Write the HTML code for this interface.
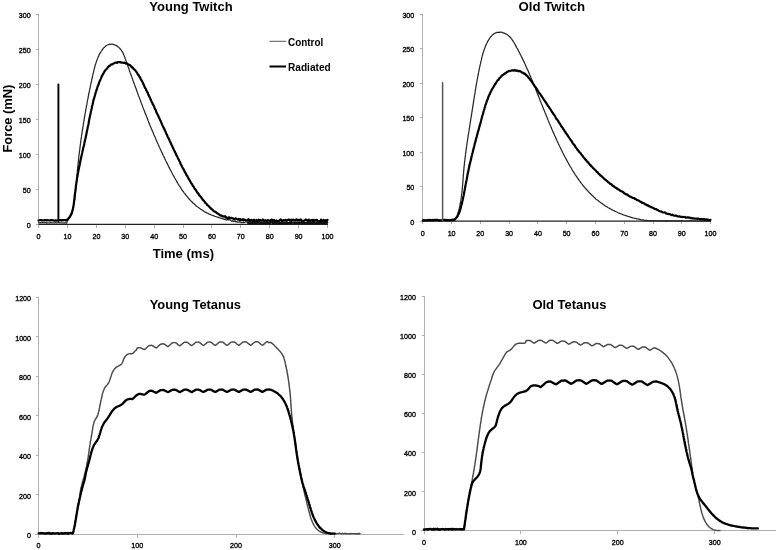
<!DOCTYPE html>
<html><head><meta charset="utf-8"><style>
html,body{margin:0;padding:0;background:#fff;width:778px;height:550px;overflow:hidden}
svg{display:block;filter:blur(0.3px)}
</style></head><body>
<svg width="778" height="550" viewBox="0 0 778 550">
<rect width="778" height="550" fill="#fff"/>
<g stroke="#b0b0b0" stroke-width="1" fill="none" shape-rendering="crispEdges">
<line x1="38.5" y1="14" x2="38.5" y2="225"/>
<line x1="35.5" y1="224.4" x2="38.5" y2="224.4"/><line x1="35.5" y1="189.4" x2="38.5" y2="189.4"/><line x1="35.5" y1="154.4" x2="38.5" y2="154.4"/><line x1="35.5" y1="119.4" x2="38.5" y2="119.4"/><line x1="35.5" y1="84.4" x2="38.5" y2="84.4"/><line x1="35.5" y1="49.4" x2="38.5" y2="49.4"/><line x1="35.5" y1="14.4" x2="38.5" y2="14.4"/>
<line x1="38.6" y1="224.5" x2="38.6" y2="227.5"/><line x1="67.5" y1="224.5" x2="67.5" y2="227.5"/><line x1="96.4" y1="224.5" x2="96.4" y2="227.5"/><line x1="125.3" y1="224.5" x2="125.3" y2="227.5"/><line x1="154.2" y1="224.5" x2="154.2" y2="227.5"/><line x1="183.0" y1="224.5" x2="183.0" y2="227.5"/><line x1="211.9" y1="224.5" x2="211.9" y2="227.5"/><line x1="240.8" y1="224.5" x2="240.8" y2="227.5"/><line x1="269.7" y1="224.5" x2="269.7" y2="227.5"/><line x1="298.6" y1="224.5" x2="298.6" y2="227.5"/><line x1="327.5" y1="224.5" x2="327.5" y2="227.5"/>
<line x1="422.5" y1="14" x2="422.5" y2="222"/>
<line x1="419.5" y1="221.0" x2="422.5" y2="221.0"/><line x1="419.5" y1="186.5" x2="422.5" y2="186.5"/><line x1="419.5" y1="152.1" x2="422.5" y2="152.1"/><line x1="419.5" y1="117.6" x2="422.5" y2="117.6"/><line x1="419.5" y1="83.1" x2="422.5" y2="83.1"/><line x1="419.5" y1="48.7" x2="422.5" y2="48.7"/><line x1="419.5" y1="14.2" x2="422.5" y2="14.2"/>
<line x1="422.8" y1="221.0" x2="422.8" y2="224.0"/><line x1="451.6" y1="221.0" x2="451.6" y2="224.0"/><line x1="480.3" y1="221.0" x2="480.3" y2="224.0"/><line x1="509.1" y1="221.0" x2="509.1" y2="224.0"/><line x1="537.9" y1="221.0" x2="537.9" y2="224.0"/><line x1="566.6" y1="221.0" x2="566.6" y2="224.0"/><line x1="595.4" y1="221.0" x2="595.4" y2="224.0"/><line x1="624.2" y1="221.0" x2="624.2" y2="224.0"/><line x1="653.0" y1="221.0" x2="653.0" y2="224.0"/><line x1="681.7" y1="221.0" x2="681.7" y2="224.0"/><line x1="710.5" y1="221.0" x2="710.5" y2="224.0"/>
<line x1="38.5" y1="297" x2="38.5" y2="534"/>
<line x1="35" y1="534.5" x2="404" y2="534.5"/>
<line x1="35.5" y1="534.1" x2="38.5" y2="534.1"/><line x1="35.5" y1="494.6" x2="38.5" y2="494.6"/><line x1="35.5" y1="455.2" x2="38.5" y2="455.2"/><line x1="35.5" y1="415.7" x2="38.5" y2="415.7"/><line x1="35.5" y1="376.3" x2="38.5" y2="376.3"/><line x1="35.5" y1="336.8" x2="38.5" y2="336.8"/><line x1="35.5" y1="297.3" x2="38.5" y2="297.3"/>
<line x1="38.6" y1="534.5" x2="38.6" y2="537.5"/><line x1="137.3" y1="534.5" x2="137.3" y2="537.5"/><line x1="236.0" y1="534.5" x2="236.0" y2="537.5"/><line x1="334.7" y1="534.5" x2="334.7" y2="537.5"/>
<line x1="424.5" y1="296" x2="424.5" y2="531"/>
<line x1="421" y1="530.5" x2="776" y2="530.5"/>
<line x1="421.5" y1="530.7" x2="424.5" y2="530.7"/><line x1="421.5" y1="491.6" x2="424.5" y2="491.6"/><line x1="421.5" y1="452.5" x2="424.5" y2="452.5"/><line x1="421.5" y1="413.5" x2="424.5" y2="413.5"/><line x1="421.5" y1="374.4" x2="424.5" y2="374.4"/><line x1="421.5" y1="335.3" x2="424.5" y2="335.3"/><line x1="421.5" y1="296.2" x2="424.5" y2="296.2"/>
<line x1="424.0" y1="530.5" x2="424.0" y2="533.5"/><line x1="520.9" y1="530.5" x2="520.9" y2="533.5"/><line x1="617.8" y1="530.5" x2="617.8" y2="533.5"/><line x1="714.7" y1="530.5" x2="714.7" y2="533.5"/>
</g>
<g stroke="#222" stroke-width="1.2" fill="none">
<line x1="38.5" y1="224.4" x2="328" y2="224.4"/>
<line x1="422.5" y1="221.1" x2="711" y2="221.1"/>
</g>
<g fill="none" stroke-linejoin="round" stroke-linecap="round">
<polyline stroke="#262626" stroke-width="1.25" points="38.6,222.6 39.4,222.8 40.2,222.7 41.1,222.9 41.9,222.9 42.7,222.5 43.5,222.5 44.3,223.0 45.2,222.7 46.0,222.6 46.8,223.1 47.6,222.8 48.4,223.0 49.3,222.8 50.1,222.9 50.9,222.6 51.7,222.9 52.5,223.0 53.4,222.8 54.2,222.9 55.0,222.9 55.8,222.5 56.7,223.0 57.5,222.9 58.3,222.7 59.1,222.5 59.9,223.0 60.8,222.8 61.6,222.9 62.4,223.0 63.2,222.9 64.0,223.1 64.9,222.7 65.7,223.0 66.5,222.8 66.5,223.1 66.9,222.4 67.3,221.2 67.7,220.6 68.1,220.0 68.5,219.6 68.8,218.7 69.2,218.1 69.5,217.3 69.8,216.6 70.1,215.9 70.4,215.2 70.7,214.5 71.0,213.8 71.3,213.2 71.5,212.4 71.8,211.8 72.0,211.0 72.2,210.3 72.5,209.4 72.7,208.5 72.9,208.0 73.1,207.3 73.3,206.5 73.5,205.6 73.6,204.9 73.8,203.9 74.0,203.4 74.1,202.5 74.3,201.6 74.4,200.7 74.5,200.3 74.7,199.5 74.8,198.4 74.9,197.9 75.0,196.9 75.1,196.0 75.2,195.3 75.3,194.7 75.4,193.9 75.5,192.8 75.6,192.2 75.7,191.2 75.8,190.7 75.8,189.7 75.9,189.1 76.0,188.3 76.1,187.3 76.1,186.7 76.2,185.6 76.3,184.7 76.3,184.1 76.4,183.1 76.5,182.4 76.5,181.6 76.6,180.9 76.6,179.9 76.7,179.0 76.8,178.6 76.8,177.5 76.9,177.0 77.0,176.2 77.0,175.1 77.1,174.4 77.2,173.6 77.2,172.8 77.3,172.0 77.4,171.2 77.4,170.4 77.5,169.7 77.6,168.8 77.7,167.9 77.7,167.3 77.8,166.3 77.9,165.5 78.0,165.0 78.1,164.0 78.1,163.2 78.2,162.2 78.3,161.6 78.4,160.8 78.5,159.8 78.6,159.3 78.6,158.5 78.7,157.4 78.8,156.9 78.9,156.0 79.0,155.3 79.1,154.4 79.2,153.7 79.3,153.0 79.4,151.9 79.5,151.1 79.6,150.6 79.7,149.9 79.8,148.8 79.9,148.1 80.0,147.4 80.1,146.5 80.2,145.7 80.3,144.9 80.4,144.1 80.5,143.4 80.6,142.5 80.7,141.8 80.8,141.1 80.9,140.0 81.1,139.5 81.2,138.7 81.3,137.8 81.4,137.0 81.5,136.4 81.6,135.4 81.7,134.6 81.9,133.9 82.0,133.2 82.1,132.2 82.2,131.5 82.3,130.7 82.5,130.1 82.6,129.1 82.7,128.5 82.8,127.5 82.9,126.7 83.1,126.1 83.2,125.4 83.3,124.4 83.5,123.5 83.6,122.7 83.7,122.1 83.8,121.1 84.0,120.6 84.1,119.8 84.2,118.7 84.4,118.0 84.5,117.4 84.6,116.5 84.8,115.8 84.9,114.8 85.0,114.0 85.2,113.2 85.3,112.6 85.5,111.6 85.6,110.9 85.7,110.1 85.9,109.3 86.0,108.5 86.2,107.9 86.3,106.8 86.5,106.0 86.6,105.6 86.8,104.7 86.9,104.0 87.0,103.0 87.2,102.4 87.3,101.6 87.5,100.5 87.6,99.9 87.8,99.2 88.0,98.3 88.1,97.5 88.3,96.6 88.4,95.8 88.6,95.0 88.7,94.1 88.9,93.6 89.0,92.7 89.2,92.1 89.4,91.0 89.5,90.5 89.7,89.7 89.8,89.0 90.0,88.2 90.2,87.4 90.3,86.5 90.5,85.5 90.7,85.0 90.8,84.0 91.0,83.3 91.1,82.6 91.3,81.8 91.5,81.0 91.7,80.4 91.8,79.5 92.0,78.6 92.2,77.8 92.3,77.3 92.5,76.4 92.7,75.7 92.9,74.8 93.0,73.9 93.2,73.3 93.4,72.7 93.6,71.6 93.7,71.1 93.9,70.4 94.1,69.6 94.3,68.8 94.5,67.8 94.7,67.2 94.9,66.6 95.1,65.5 95.3,64.8 95.6,64.0 95.8,63.4 96.1,62.6 96.3,61.8 96.6,61.2 96.9,60.1 97.2,59.4 97.5,58.7 97.8,57.9 98.1,57.1 98.4,56.7 98.8,55.9 99.1,54.8 99.5,54.2 99.9,53.4 100.3,52.7 100.8,52.0 101.2,51.3 101.7,50.6 102.2,49.8 102.7,49.1 103.2,48.5 103.7,47.8 104.3,47.4 104.9,46.9 105.5,46.2 106.1,45.6 106.8,45.3 107.4,45.0 108.1,44.7 108.8,44.6 109.5,44.2 110.2,44.3 111.0,44.2 111.7,44.1 112.4,44.2 113.1,44.4 113.9,44.7 114.6,44.8 115.3,45.2 116.0,45.4 116.6,45.7 117.3,46.3 117.9,46.8 118.6,47.0 119.1,47.7 119.7,48.2 120.2,49.0 120.8,49.6 121.2,50.0 121.7,50.9 122.1,51.5 122.5,52.0 122.9,52.8 123.2,53.4 123.5,54.4 123.9,55.0 124.2,55.9 124.5,56.6 124.8,57.3 125.0,58.1 125.3,58.8 125.6,59.4 125.9,60.4 126.1,60.9 126.4,61.7 126.7,62.8 127.0,63.2 127.2,64.0 127.5,64.8 127.8,65.9 128.0,66.4 128.3,67.1 128.6,68.2 128.9,68.6 129.1,69.7 129.4,70.4 129.7,71.2 130.0,72.0 130.2,72.7 130.5,73.5 130.8,74.0 131.0,75.0 131.3,75.7 131.6,76.5 131.9,77.0 132.1,78.1 132.4,78.9 132.7,79.3 132.9,80.2 133.2,81.0 133.5,81.9 133.8,82.4 134.0,83.1 134.3,83.9 134.6,84.8 134.9,85.6 135.1,86.3 135.4,87.0 135.7,87.8 136.0,88.5 136.2,89.3 136.5,89.9 136.8,90.8 137.1,91.8 137.3,92.3 137.6,93.2 137.9,93.7 138.2,94.7 138.4,95.4 138.7,96.2 139.0,96.8 139.3,97.6 139.6,98.4 139.8,99.2 140.1,99.7 140.4,100.4 140.7,101.4 140.9,102.2 141.2,102.8 141.5,103.5 141.8,104.4 142.1,104.9 142.4,105.7 142.6,106.4 142.9,107.3 143.2,108.0 143.5,108.7 143.8,109.6 144.1,110.4 144.4,110.9 144.6,111.8 144.9,112.5 145.2,113.4 145.5,114.0 145.8,114.6 146.1,115.3 146.4,116.0 146.7,116.9 147.0,117.6 147.3,118.3 147.6,119.1 147.8,119.8 148.1,120.7 148.4,121.2 148.7,122.3 149.0,122.8 149.3,123.6 149.6,124.3 149.9,125.2 150.2,125.9 150.5,126.6 150.8,127.3 151.1,128.1 151.4,128.9 151.8,129.4 152.1,130.3 152.4,131.1 152.7,131.7 153.0,132.3 153.3,133.0 153.6,134.0 153.9,134.7 154.2,135.5 154.5,136.2 154.9,136.7 155.2,137.4 155.5,138.2 155.8,138.9 156.1,139.8 156.4,140.6 156.8,141.4 157.1,141.8 157.4,142.8 157.7,143.3 158.1,144.1 158.4,145.0 158.7,145.4 159.0,146.2 159.4,147.2 159.7,147.7 160.0,148.4 160.4,149.3 160.7,150.0 161.0,150.5 161.4,151.4 161.7,152.1 162.1,152.9 162.4,153.5 162.7,154.4 163.1,155.2 163.4,155.7 163.8,156.5 164.1,157.1 164.5,157.9 164.8,158.8 165.2,159.3 165.5,160.3 165.9,161.0 166.2,161.4 166.6,162.5 167.0,163.0 167.3,163.9 167.7,164.6 168.0,165.1 168.4,166.0 168.8,166.7 169.1,167.5 169.5,168.0 169.9,169.0 170.2,169.8 170.6,170.4 171.0,171.0 171.4,171.6 171.7,172.5 172.1,173.1 172.5,174.0 172.9,174.7 173.3,175.4 173.7,175.9 174.1,176.9 174.5,177.6 174.9,178.1 175.3,179.1 175.7,179.7 176.1,180.2 176.5,181.2 176.9,181.6 177.3,182.4 177.7,183.2 178.1,183.9 178.6,184.6 179.0,185.3 179.4,185.9 179.9,186.5 180.3,187.1 180.7,187.8 181.2,188.7 181.6,189.4 182.1,190.0 182.5,190.7 183.0,191.2 183.5,191.8 183.9,192.5 184.4,193.3 184.9,193.6 185.4,194.4 185.9,195.0 186.4,195.8 186.9,196.2 187.4,196.8 187.9,197.5 188.4,198.1 188.9,198.8 189.4,199.2 190.0,200.0 190.5,200.3 191.0,200.9 191.6,201.4 192.1,202.0 192.7,202.8 193.3,203.3 193.8,203.6 194.4,204.1 195.0,204.7 195.6,205.4 196.2,205.9 196.8,206.4 197.4,206.8 198.0,207.1 198.6,207.7 199.2,208.0 199.9,208.6 200.5,209.1 201.2,209.4 201.8,209.8 202.5,210.4 203.1,210.6 203.8,211.3 204.5,211.7 205.2,212.1 205.9,212.2 206.6,212.7 207.3,213.1 208.0,213.4 208.7,213.9 209.4,214.1 210.1,214.3 210.9,214.8 211.6,215.0 212.3,215.4 213.1,215.7 213.8,215.7 214.6,216.3 215.3,216.5 216.1,216.7 216.8,217.0 217.6,217.2 218.4,217.4 219.2,217.8 219.9,217.8 220.7,218.2 221.5,218.5 222.3,218.6 223.1,218.9 223.9,219.2 224.6,219.4 225.4,218.9 226.2,220.1 227.0,220.0 227.8,219.3 228.6,219.9 229.4,219.9 230.2,219.8 231.0,220.7 231.8,221.4 232.6,220.6 233.5,221.6 234.3,221.4 235.1,220.7 235.9,221.9 236.7,221.7 237.5,222.2 238.3,222.0 239.1,222.2 239.9,221.7 240.7,222.4 241.5,222.7 242.3,222.7 243.1,222.1 243.9,222.7 244.8,222.3 245.6,221.8 246.4,221.8 247.1,221.9 247.9,222.1 248.7,222.1 249.5,222.6 250.3,223.0 251.1,222.8 251.9,222.6 252.7,223.0 253.5,222.5 254.2,222.7 255.0,223.2 255.0,222.7 255.8,222.3 256.6,223.4 257.4,223.1 258.2,222.6 259.0,222.6 259.8,222.9 260.6,223.0 261.4,222.4 262.2,222.1 263.1,222.4 263.9,223.2 264.7,222.3 265.5,222.8 266.3,222.4 267.1,222.4 267.9,222.3 268.7,222.7 269.5,222.3 270.3,222.1 271.1,222.2 271.9,222.3 272.7,222.8 273.5,222.2 274.3,222.1 275.1,222.7 275.9,222.7 276.8,223.1 277.6,222.2 278.4,222.7 279.2,222.7 280.0,222.1 280.8,223.5 281.6,222.4 282.4,222.2 283.2,222.8 284.0,222.3 284.8,223.0 285.6,222.6 286.4,222.3 287.2,222.2 288.0,223.2 288.8,222.5 289.6,223.3 290.4,222.8 291.2,223.5 292.1,222.6 292.9,222.5 293.7,222.5 294.5,223.3 295.3,223.0 296.1,222.6 296.9,222.2 297.7,223.1 298.5,223.6 299.3,223.0 300.1,222.1 300.9,222.2 301.7,222.3 302.5,222.4 303.3,222.2 304.1,222.2 304.9,223.1 305.8,223.5 306.6,222.4 307.4,223.6 308.2,222.8 309.0,223.3 309.8,223.5 310.6,223.5 311.4,222.2 312.2,222.6 313.0,223.0 313.8,223.6 314.6,222.3 315.4,222.6 316.2,223.4 317.0,222.3 317.8,222.7 318.6,222.6 319.4,223.2 320.2,223.5 321.1,222.4 321.9,223.3 322.7,223.2 323.5,223.4 324.3,223.0 325.1,223.5 325.9,222.7 326.7,222.8 327.5,222.5"/>
<polyline stroke="#000" stroke-width="2.2" points="38.6,220.5 39.4,220.3 40.2,220.1 41.1,220.1 41.9,220.5 42.7,220.4 43.5,220.4 44.3,220.2 45.2,220.3 46.0,220.1 46.8,220.4 47.6,220.0 48.4,220.3 49.3,220.5 50.1,220.4 50.9,220.0 51.7,220.1 52.5,220.5 53.4,220.4 54.2,220.6 55.0,220.6 55.8,220.3 56.7,220.6 57.5,220.5 58.3,220.2 59.1,220.2 59.9,220.0 60.8,220.2 61.6,220.6 62.4,220.0 63.2,220.3 64.0,220.0 64.9,220.0 65.7,220.4 66.5,220.1 66.5,220.0 67.1,219.6 67.7,219.4 68.2,218.8 68.8,217.8 69.2,217.4 69.7,217.3 70.1,216.2 70.5,215.8 70.8,215.0 71.2,214.6 71.5,213.8 71.8,213.2 72.0,212.3 72.3,211.3 72.5,210.6 72.7,209.8 72.9,209.5 73.0,208.2 73.2,207.4 73.3,207.3 73.5,205.9 73.6,205.6 73.7,204.3 73.8,203.7 73.9,202.7 74.0,202.4 74.1,201.4 74.2,200.6 74.3,199.9 74.4,199.1 74.5,198.0 74.6,197.3 74.6,196.4 74.7,195.4 74.8,195.1 74.9,194.1 75.0,193.5 75.1,192.3 75.2,191.7 75.3,190.8 75.4,190.2 75.5,189.0 75.6,188.4 75.7,187.7 75.8,186.6 75.9,186.2 76.0,185.5 76.1,184.5 76.3,183.9 76.4,183.0 76.5,182.0 76.6,181.3 76.7,180.9 76.8,179.7 77.0,179.0 77.1,177.9 77.2,177.3 77.4,176.4 77.5,176.2 77.6,175.2 77.8,174.6 77.9,173.9 78.1,172.8 78.2,172.2 78.3,171.2 78.5,170.3 78.6,169.9 78.8,169.1 79.0,168.3 79.1,167.2 79.3,166.6 79.4,165.6 79.6,165.2 79.8,164.4 79.9,163.1 80.1,162.8 80.3,161.5 80.4,160.6 80.6,160.3 80.8,159.2 80.9,158.6 81.1,157.9 81.3,156.7 81.4,156.4 81.6,155.2 81.8,154.6 82.0,153.7 82.1,153.2 82.3,152.4 82.5,151.3 82.7,150.4 82.9,149.8 83.0,149.0 83.2,148.0 83.4,147.3 83.6,146.9 83.7,146.1 83.9,145.5 84.1,144.7 84.3,143.9 84.4,142.7 84.6,141.8 84.8,141.1 85.0,140.4 85.1,139.7 85.3,138.9 85.5,138.0 85.7,137.6 85.8,136.4 86.0,135.7 86.2,135.3 86.3,134.4 86.5,133.3 86.7,132.5 86.8,132.1 87.0,130.7 87.2,130.0 87.3,129.5 87.5,128.8 87.6,127.7 87.8,126.9 87.9,126.2 88.1,125.8 88.3,124.8 88.4,124.4 88.6,123.5 88.7,122.8 88.9,121.4 89.0,120.7 89.2,119.8 89.3,119.3 89.5,118.5 89.6,117.5 89.8,117.1 90.0,116.0 90.1,115.4 90.3,114.6 90.4,114.2 90.6,113.1 90.8,112.2 90.9,111.3 91.1,110.8 91.3,110.2 91.4,109.4 91.6,108.8 91.8,108.0 91.9,106.8 92.1,105.9 92.3,105.6 92.5,104.8 92.7,103.9 92.9,103.3 93.0,102.4 93.2,101.4 93.4,100.5 93.6,99.7 93.8,99.3 94.0,98.7 94.2,97.9 94.5,96.9 94.7,96.2 94.9,95.6 95.1,94.8 95.4,93.9 95.6,92.9 95.8,92.2 96.1,91.2 96.3,90.4 96.6,90.0 96.8,89.5 97.1,88.4 97.3,87.5 97.6,86.7 97.9,86.0 98.2,85.4 98.5,84.4 98.8,84.0 99.0,82.6 99.4,82.0 99.7,81.3 100.0,80.5 100.3,80.0 100.6,79.2 101.0,78.5 101.3,77.5 101.7,76.4 102.0,76.0 102.4,75.2 102.8,74.4 103.2,73.6 103.6,73.2 104.0,72.6 104.4,71.4 104.9,71.1 105.3,70.2 105.8,69.7 106.3,69.3 106.8,68.8 107.3,68.0 107.8,67.1 108.4,67.1 108.9,66.1 109.5,65.8 110.1,65.6 110.7,64.8 111.4,64.4 112.0,64.5 112.7,64.2 113.4,63.5 114.1,63.2 114.8,62.9 115.5,62.6 116.3,62.5 117.0,62.9 117.8,62.2 118.6,62.2 119.3,62.1 120.1,62.1 120.9,62.4 121.6,62.6 122.4,62.7 123.1,62.7 123.9,63.0 124.6,62.6 125.3,63.0 126.0,63.7 126.7,63.4 127.4,63.8 128.0,64.3 128.7,64.5 129.3,65.1 130.0,65.2 130.6,65.7 131.2,66.7 131.7,66.6 132.3,67.7 132.9,67.7 133.4,68.8 134.0,69.2 134.5,69.7 135.0,70.0 135.5,70.5 136.0,71.7 136.5,71.9 137.0,72.6 137.5,73.7 137.9,74.5 138.4,74.6 138.8,75.9 139.3,76.4 139.7,77.0 140.1,77.5 140.5,78.5 140.9,79.6 141.3,79.9 141.7,80.6 142.1,81.3 142.5,82.1 142.9,83.0 143.3,84.2 143.7,84.3 144.0,85.2 144.4,86.5 144.8,87.3 145.1,88.0 145.5,88.2 145.9,89.1 146.2,90.2 146.6,90.6 146.9,91.5 147.3,92.0 147.6,92.5 148.0,93.5 148.3,94.5 148.6,95.2 149.0,95.8 149.3,96.4 149.6,97.2 150.0,97.8 150.3,98.6 150.6,99.5 151.0,99.8 151.3,100.8 151.6,101.7 152.0,102.4 152.3,102.6 152.6,103.9 152.9,104.5 153.3,104.8 153.6,105.5 153.9,106.2 154.2,106.8 154.6,108.2 154.9,108.5 155.2,109.5 155.5,109.7 155.9,110.3 156.2,111.7 156.5,112.3 156.8,113.2 157.2,113.7 157.5,114.3 157.8,115.2 158.2,115.4 158.5,116.5 158.8,117.1 159.1,117.6 159.5,118.7 159.8,119.2 160.1,120.0 160.5,120.7 160.8,121.4 161.1,122.1 161.5,123.0 161.8,124.0 162.1,124.7 162.5,125.4 162.8,126.1 163.1,126.4 163.5,127.6 163.8,127.9 164.1,128.5 164.5,129.5 164.8,130.4 165.1,130.8 165.5,131.8 165.8,132.3 166.1,133.5 166.5,133.8 166.8,134.6 167.2,135.4 167.5,136.3 167.8,137.1 168.2,137.5 168.5,138.2 168.9,139.1 169.2,139.4 169.5,140.4 169.9,141.4 170.2,142.1 170.6,142.3 170.9,143.6 171.2,144.0 171.6,145.2 171.9,145.5 172.3,146.1 172.6,147.1 173.0,148.0 173.3,148.4 173.7,149.5 174.0,150.1 174.3,150.6 174.7,151.3 175.0,152.1 175.4,152.8 175.7,153.5 176.1,154.4 176.4,155.3 176.8,155.8 177.1,156.3 177.5,157.0 177.8,157.9 178.2,158.8 178.5,159.2 178.9,159.8 179.2,160.7 179.6,161.4 180.0,162.0 180.3,163.0 180.7,164.0 181.0,164.5 181.4,165.3 181.8,166.1 182.1,166.8 182.5,167.6 182.9,168.0 183.2,168.9 183.6,169.2 184.0,170.4 184.3,170.8 184.7,171.6 185.1,172.6 185.5,172.9 185.9,173.5 186.2,174.6 186.6,175.2 187.0,175.5 187.4,176.2 187.8,177.1 188.2,177.6 188.6,178.8 189.0,179.1 189.4,179.8 189.8,180.6 190.2,181.4 190.6,182.0 191.0,182.8 191.4,183.5 191.9,184.0 192.3,184.5 192.7,185.8 193.1,186.2 193.6,186.5 194.0,187.4 194.4,188.3 194.9,189.1 195.3,189.1 195.8,189.8 196.2,190.8 196.7,191.4 197.1,192.4 197.6,193.0 198.1,193.3 198.5,194.0 199.0,194.7 199.5,195.6 199.9,195.8 200.4,196.5 200.9,196.9 201.4,198.0 201.9,198.2 202.4,199.4 202.9,199.8 203.4,200.4 203.9,200.7 204.4,201.4 205.0,202.2 205.5,203.1 206.0,203.4 206.6,203.9 207.1,204.9 207.7,205.3 208.2,205.8 208.8,206.1 209.3,206.8 209.9,207.7 210.5,207.8 211.1,208.6 211.7,209.2 212.3,209.5 212.9,210.3 213.5,210.9 214.1,211.3 214.7,211.7 215.4,211.8 216.0,212.2 216.7,212.9 217.3,213.2 218.0,213.6 218.7,214.4 219.3,214.4 220.0,215.2 220.7,215.6 221.4,215.4 222.2,216.3 222.9,216.2 223.6,216.4 224.4,216.6 225.1,216.1 225.9,217.3 226.7,217.3 227.5,218.5 228.3,218.7 229.1,217.2 229.9,218.1 230.7,218.2 231.5,217.9 232.3,218.2 233.1,218.4 233.9,219.4 234.7,218.8 235.6,218.4 236.4,218.7 237.2,219.3 238.0,219.6 238.9,219.0 239.7,220.1 240.5,219.1 241.3,220.1 242.1,220.0 243.0,219.1 243.8,220.4 244.6,219.7 245.4,220.1 246.2,220.3 246.9,220.4 247.7,220.0 248.5,219.2 249.2,220.9 250.0,221.1 250.0,220.3 250.8,220.5 251.6,219.8 252.4,221.2 253.2,220.7 254.0,219.7 254.8,221.0 255.7,221.4 256.5,220.0 257.3,221.4 258.1,220.3 258.9,219.6 259.7,220.8 260.5,220.0 261.3,220.8 262.1,220.5 262.9,219.5 263.7,220.4 264.5,221.1 265.3,220.3 266.1,220.4 267.0,221.1 267.8,220.2 268.6,220.3 269.4,220.5 270.2,221.1 271.0,219.7 271.8,219.5 272.6,220.9 273.4,220.5 274.2,219.9 275.0,221.2 275.8,221.2 276.6,220.5 277.4,221.4 278.3,221.1 279.1,220.9 279.9,219.9 280.7,219.3 281.5,220.8 282.3,220.9 283.1,220.1 283.9,220.3 284.7,220.5 285.5,219.8 286.3,220.8 287.1,220.5 287.9,220.1 288.8,219.5 289.6,220.5 290.4,220.0 291.2,220.9 292.0,219.7 292.8,220.2 293.6,219.7 294.4,220.2 295.2,220.6 296.0,219.6 296.8,219.4 297.6,220.4 298.4,219.8 299.2,220.4 300.1,219.7 300.9,219.6 301.7,220.5 302.5,221.4 303.3,221.2 304.1,220.5 304.9,220.2 305.7,219.5 306.5,220.0 307.3,220.0 308.1,221.4 308.9,219.6 309.7,221.4 310.5,220.4 311.4,220.3 312.2,219.9 313.0,221.5 313.8,219.8 314.6,220.6 315.4,220.5 316.2,219.8 317.0,219.9 317.8,221.5 318.6,221.1 319.4,221.0 320.2,221.4 321.0,219.6 321.8,220.9 322.7,221.0 323.5,219.9 324.3,220.4 325.1,221.5 325.9,220.1 326.7,221.1 327.5,219.8"/>
<polyline stroke="#111" stroke-width="2.2" points="248.0,222.6 248.8,223.3 249.6,223.4 250.4,223.2 251.2,223.0 252.0,222.9 252.8,223.2 253.6,223.2 254.4,223.2 255.2,222.7 256.0,223.2 256.8,223.4 257.6,223.0 258.4,222.4 259.2,222.6 260.0,223.1 260.8,222.8 261.6,223.3 262.4,223.0 263.2,223.1 264.0,222.6 264.8,222.9 265.6,223.1 266.4,223.3 267.2,223.3 268.0,222.7 268.8,222.9 269.6,223.4 270.4,222.5 271.2,222.5 272.0,222.6 272.8,223.1 273.6,222.7 274.4,223.1 275.2,223.2 276.0,223.2 276.8,222.4 277.6,223.1 278.4,223.2 279.2,223.1 280.0,223.3 280.8,223.2 281.6,223.0 282.4,223.3 283.2,222.9 284.0,222.5 284.8,222.7 285.6,223.3 286.4,222.7 287.2,222.9 288.0,223.3 288.8,223.1 289.6,223.2 290.4,222.9 291.2,222.9 292.0,222.5 292.8,222.6 293.6,222.6 294.4,222.9 295.2,222.9 296.0,222.5 296.8,223.0 297.6,222.5 298.4,222.8 299.2,222.4 300.0,222.9 300.8,222.5 301.6,223.3 302.4,222.8 303.2,223.2 304.0,222.8 304.8,222.7 305.6,223.2 306.4,222.7 307.2,222.9 308.0,223.0 308.8,223.4 309.6,223.1 310.4,222.5 311.2,222.9 312.0,223.4 312.8,223.3 313.6,222.8 314.4,222.5 315.2,222.7 316.0,223.2 316.8,222.6 317.6,223.3 318.4,222.7 319.2,223.1 320.0,223.1 320.8,222.6 321.6,222.9 322.4,223.0 323.2,222.7 324.0,222.9 324.8,223.0 325.6,223.4 326.4,222.7 327.2,222.6"/>
<line x1="58.4" y1="221" x2="58.4" y2="84.5" stroke="#000" stroke-width="1.9"/>
<polyline stroke="#262626" stroke-width="1.25" points="422.8,220.8 423.6,220.6 424.4,220.7 425.2,220.6 426.0,220.8 426.8,220.7 427.6,220.7 428.4,220.7 429.2,220.6 430.0,220.7 430.9,220.6 431.7,220.7 432.5,220.7 433.3,220.6 434.1,220.5 434.9,220.5 435.7,220.7 436.5,220.5 437.3,220.7 438.1,220.6 438.9,220.7 439.7,220.7 440.5,220.7 441.3,220.5 442.1,220.4 442.9,220.6 443.7,220.6 444.5,220.7 445.3,220.5 446.1,220.5 446.9,220.7 447.8,220.6 448.6,220.5 449.4,220.6 450.2,220.4 451.0,220.5 451.8,220.6 452.6,220.5 453.4,220.4 454.2,220.4 455.0,220.5 455.0,220.6 455.3,219.7 455.6,219.0 455.9,218.3 456.2,217.8 456.5,216.9 456.8,216.2 457.1,215.7 457.3,214.8 457.6,214.0 457.8,213.4 458.0,212.5 458.3,211.8 458.5,211.2 458.7,210.3 458.9,209.5 459.1,208.9 459.3,208.1 459.5,207.5 459.6,206.5 459.8,205.9 460.0,205.0 460.1,204.4 460.3,203.5 460.4,202.8 460.6,201.9 460.7,201.1 460.8,200.4 461.0,199.7 461.1,198.8 461.2,198.0 461.3,197.3 461.4,196.4 461.5,195.7 461.6,194.9 461.7,194.1 461.8,193.4 461.9,192.5 462.0,191.6 462.1,190.8 462.1,190.1 462.2,189.2 462.3,188.6 462.4,187.7 462.4,187.0 462.5,186.2 462.6,185.4 462.6,184.6 462.7,183.7 462.8,182.9 462.8,182.0 462.9,181.1 463.0,180.6 463.0,179.7 463.1,178.7 463.1,178.2 463.2,177.3 463.3,176.5 463.3,175.6 463.4,174.7 463.5,174.1 463.5,173.1 463.6,172.3 463.7,171.7 463.7,170.7 463.8,170.0 463.9,169.2 463.9,168.3 464.0,167.7 464.1,166.7 464.2,165.8 464.3,165.1 464.4,164.2 464.4,163.6 464.5,162.9 464.6,162.1 464.7,161.0 464.8,160.4 464.9,159.5 465.0,158.7 465.1,157.9 465.2,157.1 465.3,156.3 465.4,155.6 465.5,154.7 465.6,154.1 465.7,153.1 465.8,152.5 465.9,151.5 466.0,150.7 466.1,150.1 466.2,149.2 466.3,148.5 466.4,147.6 466.5,146.9 466.7,145.9 466.8,145.3 466.9,144.5 467.0,143.8 467.1,142.8 467.2,142.0 467.3,141.4 467.5,140.7 467.6,139.7 467.7,139.0 467.8,138.2 467.9,137.3 468.1,136.6 468.2,135.8 468.3,134.9 468.4,134.2 468.6,133.5 468.7,132.6 468.8,131.9 468.9,131.0 469.1,130.2 469.2,129.5 469.3,128.8 469.4,128.1 469.6,127.1 469.7,126.3 469.8,125.5 469.9,124.6 470.1,123.9 470.2,123.2 470.3,122.4 470.4,121.5 470.6,120.7 470.7,119.9 470.8,119.1 470.9,118.4 471.1,117.6 471.2,117.0 471.3,116.1 471.4,115.2 471.6,114.5 471.7,113.6 471.8,113.0 471.9,112.2 472.1,111.3 472.2,110.6 472.3,109.7 472.4,108.9 472.6,108.1 472.7,107.3 472.8,106.6 472.9,105.8 473.0,105.0 473.2,104.1 473.3,103.5 473.4,102.6 473.5,101.8 473.7,101.0 473.8,100.2 473.9,99.3 474.0,98.6 474.2,97.9 474.3,97.1 474.4,96.3 474.5,95.3 474.7,94.7 474.8,93.9 474.9,93.1 475.1,92.4 475.2,91.3 475.3,90.7 475.4,90.0 475.6,89.0 475.7,88.3 475.8,87.6 476.0,86.6 476.1,86.0 476.2,85.2 476.4,84.3 476.5,83.4 476.7,82.7 476.8,82.0 476.9,81.1 477.1,80.3 477.2,79.6 477.4,78.9 477.5,77.9 477.7,77.1 477.8,76.6 478.0,75.6 478.1,74.8 478.3,74.2 478.4,73.2 478.6,72.4 478.7,71.8 478.9,70.9 479.0,70.1 479.2,69.5 479.4,68.5 479.5,67.9 479.7,67.0 479.9,66.2 480.0,65.4 480.2,64.7 480.4,64.0 480.6,63.1 480.7,62.4 480.9,61.6 481.1,60.9 481.3,60.2 481.5,59.4 481.6,58.6 481.8,57.6 482.0,56.9 482.2,56.2 482.4,55.4 482.6,54.8 482.8,54.1 483.1,53.3 483.3,52.4 483.5,51.5 483.8,50.9 484.0,50.0 484.3,49.5 484.6,48.5 484.8,47.8 485.1,47.2 485.4,46.2 485.8,45.6 486.1,44.7 486.5,44.0 486.8,43.1 487.2,42.6 487.6,41.6 488.0,40.9 488.5,40.2 488.9,39.5 489.4,38.6 489.9,37.9 490.4,37.4 490.9,36.6 491.4,36.2 491.9,35.5 492.5,34.9 493.1,34.4 493.7,33.9 494.3,33.6 494.9,33.3 495.6,32.9 496.3,32.6 497.0,32.4 497.7,32.3 498.4,32.3 499.1,32.2 499.8,32.3 500.5,32.2 501.3,32.2 502.0,32.4 502.7,32.8 503.5,32.9 504.2,33.1 504.9,33.4 505.6,33.9 506.3,34.1 506.9,34.5 507.6,35.0 508.2,35.3 508.8,36.0 509.4,36.5 509.9,37.1 510.5,37.6 511.0,38.2 511.5,38.9 512.0,39.4 512.4,40.3 512.9,40.7 513.3,41.7 513.8,42.1 514.2,43.0 514.6,43.6 515.0,44.3 515.4,45.1 515.8,45.9 516.2,46.6 516.6,47.4 517.0,48.1 517.4,48.6 517.8,49.4 518.1,50.0 518.5,51.0 518.9,51.6 519.3,52.4 519.7,53.1 520.0,53.9 520.4,54.6 520.8,55.3 521.1,56.0 521.5,56.6 521.8,57.5 522.2,58.0 522.5,58.7 522.9,59.7 523.3,60.3 523.6,61.1 523.9,61.6 524.3,62.4 524.6,63.3 525.0,63.8 525.3,64.7 525.6,65.6 526.0,66.1 526.3,67.0 526.6,67.7 527.0,68.4 527.3,69.2 527.6,69.9 527.9,70.4 528.3,71.2 528.6,72.0 528.9,72.9 529.2,73.4 529.5,74.3 529.8,74.9 530.2,75.8 530.5,76.4 530.8,77.2 531.1,78.0 531.4,78.5 531.7,79.5 532.0,80.2 532.3,81.0 532.6,81.5 532.9,82.3 533.2,83.0 533.5,83.9 533.8,84.5 534.1,85.3 534.4,86.0 534.7,86.8 535.0,87.5 535.3,88.2 535.6,89.1 535.9,89.8 536.2,90.4 536.5,91.1 536.8,92.1 537.1,92.8 537.4,93.5 537.7,94.1 538.0,95.1 538.3,95.6 538.6,96.3 538.9,97.0 539.2,97.8 539.4,98.7 539.7,99.3 540.0,100.2 540.3,100.9 540.6,101.6 540.9,102.4 541.2,103.1 541.5,103.9 541.8,104.6 542.1,105.3 542.4,106.0 542.7,106.9 543.0,107.4 543.3,108.4 543.6,109.0 543.9,109.9 544.2,110.4 544.5,111.2 544.8,112.0 545.1,112.8 545.4,113.4 545.7,114.1 546.0,114.8 546.3,115.7 546.6,116.5 546.9,117.0 547.2,117.8 547.5,118.6 547.8,119.5 548.1,120.1 548.4,120.9 548.7,121.6 549.0,122.4 549.3,123.2 549.6,123.9 549.9,124.4 550.2,125.3 550.6,126.0 550.9,126.7 551.2,127.6 551.5,128.2 551.8,128.9 552.1,129.8 552.5,130.5 552.8,131.2 553.1,132.1 553.4,132.7 553.7,133.4 554.1,134.0 554.4,134.9 554.7,135.6 555.0,136.4 555.4,137.0 555.7,137.7 556.0,138.4 556.4,139.2 556.7,139.9 557.0,140.8 557.4,141.5 557.7,142.1 558.1,143.0 558.4,143.7 558.7,144.2 559.1,145.2 559.4,145.7 559.8,146.7 560.1,147.2 560.5,147.9 560.8,148.6 561.2,149.6 561.5,150.3 561.9,150.9 562.3,151.5 562.6,152.3 563.0,153.1 563.3,153.6 563.7,154.6 564.1,155.3 564.5,156.0 564.8,156.7 565.2,157.4 565.6,158.2 566.0,158.7 566.3,159.4 566.7,160.1 567.1,160.8 567.5,161.7 567.9,162.2 568.3,163.1 568.7,163.7 569.1,164.5 569.4,165.2 569.8,165.9 570.3,166.6 570.7,167.1 571.1,167.8 571.5,168.5 571.9,169.2 572.3,170.0 572.7,170.7 573.1,171.4 573.6,172.1 574.0,172.7 574.4,173.3 574.9,174.0 575.3,174.8 575.7,175.4 576.2,176.0 576.6,176.6 577.1,177.4 577.5,177.9 578.0,178.8 578.4,179.2 578.9,180.0 579.4,180.6 579.8,181.1 580.3,181.9 580.8,182.5 581.3,183.3 581.8,183.9 582.3,184.4 582.7,185.1 583.2,185.8 583.7,186.2 584.2,187.0 584.8,187.6 585.3,188.2 585.8,188.8 586.3,189.2 586.8,189.8 587.4,190.5 587.9,190.9 588.4,191.7 589.0,192.2 589.5,192.9 590.1,193.3 590.6,193.8 591.2,194.6 591.7,195.0 592.3,195.5 592.9,196.1 593.5,196.6 594.0,197.2 594.6,197.7 595.2,198.2 595.8,198.9 596.4,199.4 597.0,199.8 597.7,200.2 598.3,200.7 598.9,201.3 599.5,201.8 600.2,202.3 600.8,202.6 601.4,203.2 602.1,203.6 602.7,204.1 603.4,204.6 604.1,205.0 604.7,205.5 605.4,206.0 606.1,206.5 606.8,206.6 607.5,207.2 608.2,207.7 608.9,208.0 609.6,208.4 610.3,208.9 611.0,209.0 611.7,209.6 612.4,210.0 613.2,210.3 613.9,210.6 614.6,211.1 615.3,211.3 616.1,211.7 616.8,212.0 617.6,212.5 618.3,212.8 619.1,213.1 619.8,213.5 620.6,213.7 621.3,214.0 622.1,214.2 622.8,214.7 623.6,215.0 624.4,215.2 625.1,215.3 625.9,215.8 626.7,215.8 627.4,216.2 628.2,216.5 629.0,216.6 629.8,216.9 630.6,217.3 631.3,217.4 632.1,217.6 632.9,217.9 633.7,218.0 634.4,218.3 635.2,218.4 636.0,218.5 636.8,218.9 637.6,218.8 638.4,219.0 639.1,219.4 639.9,219.3 640.7,219.6 641.5,219.8 642.3,219.9 643.0,219.9 643.8,220.2 644.6,220.3 645.4,220.3 646.1,220.4 646.9,220.4 647.7,220.6 648.5,220.8 649.2,220.9 650.0,220.7 650.0,220.7 650.8,220.7 651.6,220.9 652.4,220.7 653.2,220.7 654.0,220.9 654.8,220.7 655.6,221.0 656.5,220.8 657.3,220.9 658.1,220.9 658.9,220.7 659.7,220.9 660.5,220.8 661.3,220.7 662.1,220.7 662.9,220.9 663.7,220.8 664.5,220.8 665.3,220.9 666.1,220.7 666.9,220.8 667.7,220.7 668.6,220.8 669.4,220.9 670.2,220.8 671.0,220.7 671.8,220.8 672.6,220.9 673.4,220.8 674.2,221.0 675.0,220.7 675.8,221.0 676.6,220.9 677.4,220.9 678.2,220.8 679.0,220.7 679.8,220.8 680.7,220.9 681.5,220.7 682.3,220.7 683.1,220.9 683.9,221.0 684.7,221.0 685.5,221.0 686.3,220.9 687.1,221.0 687.9,220.9 688.7,220.9 689.5,220.8 690.3,220.7 691.1,220.7 691.9,220.8 692.8,220.9 693.6,220.8 694.4,221.0 695.2,220.9 696.0,220.9 696.8,221.0 697.6,220.8 698.4,221.0 699.2,221.0 700.0,220.8 700.8,220.8 701.6,221.0 702.4,221.0 703.2,221.0 704.0,220.9 704.9,220.9 705.7,220.8 706.5,220.8 707.3,220.9 708.1,221.0 708.9,220.8 709.7,221.0 710.5,220.8"/>
<polyline stroke="#000" stroke-width="2.2" points="422.8,220.4 423.6,219.9 424.4,220.3 425.2,220.3 426.0,220.4 426.9,220.1 427.7,220.2 428.5,220.0 429.3,220.3 430.1,219.8 430.9,220.4 431.7,220.2 432.5,219.8 433.3,220.4 434.2,220.0 435.0,219.8 435.8,219.9 436.6,219.8 437.4,219.9 438.2,220.2 439.0,220.4 439.8,220.2 440.6,220.3 441.5,220.3 442.3,220.3 443.1,220.0 443.9,219.9 444.7,219.9 445.5,220.1 446.3,219.9 447.1,220.3 447.9,220.0 448.8,220.2 449.6,220.1 450.4,220.2 451.2,219.9 452.0,219.9 452.0,220.2 452.8,219.7 453.5,219.8 454.1,219.7 454.7,218.9 455.3,218.9 455.8,218.2 456.3,217.9 456.8,217.1 457.2,216.7 457.6,216.1 458.0,215.1 458.3,214.7 458.7,214.0 459.0,213.2 459.2,212.7 459.5,212.1 459.8,211.3 460.0,210.5 460.2,209.3 460.5,208.9 460.7,208.1 460.9,207.5 461.1,206.1 461.3,205.4 461.5,205.2 461.7,203.9 461.9,203.4 462.1,202.5 462.3,201.5 462.5,200.8 462.7,200.0 462.8,199.5 463.0,198.4 463.2,197.8 463.3,196.6 463.5,196.1 463.7,195.2 463.8,194.5 464.0,193.8 464.1,192.4 464.3,192.3 464.4,191.2 464.6,190.2 464.7,189.5 464.9,188.5 465.0,187.8 465.2,187.4 465.3,186.5 465.5,185.8 465.6,184.6 465.8,183.7 465.9,183.1 466.1,182.4 466.2,181.8 466.4,180.7 466.5,180.3 466.7,179.4 466.8,178.4 467.0,178.0 467.1,176.7 467.3,176.3 467.4,175.2 467.6,174.3 467.7,173.9 467.9,173.1 468.0,172.4 468.2,171.5 468.4,171.1 468.5,170.2 468.7,169.0 468.9,168.1 469.0,168.0 469.2,166.8 469.4,165.8 469.5,165.1 469.7,164.7 469.9,163.5 470.1,162.9 470.3,162.3 470.4,161.3 470.6,160.8 470.8,160.2 471.0,159.3 471.2,158.4 471.4,157.6 471.5,156.6 471.7,156.1 471.9,155.3 472.1,154.5 472.3,153.6 472.5,153.0 472.7,151.8 472.9,151.4 473.1,150.8 473.3,149.4 473.5,148.8 473.7,148.5 473.9,147.1 474.1,146.8 474.3,145.9 474.5,144.7 474.7,144.3 474.9,143.1 475.1,142.9 475.3,141.8 475.5,141.4 475.7,140.6 475.9,139.3 476.1,138.7 476.4,137.8 476.6,137.4 476.8,136.2 477.0,135.4 477.2,134.6 477.4,134.4 477.6,133.2 477.8,132.4 478.0,131.7 478.2,131.0 478.5,130.2 478.7,129.8 478.9,128.6 479.1,127.9 479.3,127.4 479.5,126.2 479.7,125.4 479.9,125.0 480.1,123.9 480.4,123.5 480.6,122.7 480.8,121.6 481.0,120.8 481.2,119.9 481.4,119.7 481.6,118.6 481.8,117.8 482.0,116.9 482.2,116.2 482.4,115.9 482.7,114.6 482.9,114.1 483.1,113.4 483.3,112.6 483.5,111.8 483.7,111.0 483.9,110.1 484.2,109.7 484.4,109.0 484.6,108.1 484.8,107.1 485.1,106.8 485.3,105.5 485.5,104.8 485.8,104.3 486.0,103.7 486.3,102.8 486.5,101.7 486.8,101.6 487.1,100.3 487.4,99.7 487.6,99.4 487.9,98.5 488.2,97.7 488.5,96.5 488.8,96.3 489.1,95.3 489.5,94.2 489.8,94.1 490.1,93.4 490.5,92.1 490.8,91.6 491.2,91.2 491.6,90.1 492.0,89.3 492.3,88.9 492.7,88.0 493.2,87.6 493.6,86.8 494.0,86.1 494.5,85.3 494.9,84.2 495.4,83.8 495.9,83.0 496.3,82.3 496.8,81.6 497.3,80.8 497.9,80.0 498.4,79.9 498.9,78.9 499.5,78.0 500.0,78.0 500.6,77.1 501.2,76.6 501.7,75.8 502.3,75.2 502.9,74.8 503.6,74.6 504.2,73.8 504.8,73.8 505.5,72.9 506.1,72.9 506.8,72.1 507.4,71.9 508.1,71.4 508.8,71.1 509.5,71.1 510.2,70.8 510.9,70.8 511.7,70.4 512.4,70.4 513.1,70.3 513.9,70.7 514.6,70.1 515.4,70.4 516.2,70.8 516.9,70.7 517.7,70.6 518.4,71.3 519.2,70.9 519.9,71.2 520.6,71.4 521.3,72.0 522.0,72.6 522.7,72.6 523.4,73.0 524.1,73.8 524.7,73.7 525.4,74.2 526.0,75.1 526.6,75.3 527.2,76.1 527.7,76.4 528.3,77.3 528.8,78.1 529.3,78.5 529.8,79.0 530.3,79.9 530.8,80.6 531.3,80.8 531.8,81.6 532.3,82.4 532.7,83.2 533.2,83.7 533.7,84.7 534.1,85.1 534.6,86.2 535.1,86.5 535.5,87.1 536.0,87.7 536.4,88.4 536.9,89.1 537.4,90.2 537.8,90.6 538.3,91.3 538.7,92.3 539.2,93.0 539.6,93.5 540.1,93.8 540.5,94.5 541.0,95.3 541.4,95.8 541.9,96.5 542.3,97.1 542.8,97.8 543.2,98.8 543.7,99.3 544.1,99.9 544.6,100.6 545.0,101.3 545.4,102.0 545.9,102.2 546.3,103.5 546.8,103.8 547.2,104.4 547.7,105.5 548.1,106.0 548.5,106.4 549.0,106.8 549.4,107.8 549.9,108.5 550.3,109.1 550.7,109.6 551.2,110.6 551.6,111.0 552.0,112.0 552.5,112.5 552.9,113.0 553.4,114.1 553.8,114.5 554.2,114.9 554.7,115.7 555.1,116.2 555.5,117.2 556.0,118.2 556.4,118.9 556.8,119.3 557.3,119.6 557.7,120.4 558.2,121.0 558.6,121.8 559.0,122.7 559.5,122.9 559.9,123.9 560.4,124.5 560.8,125.4 561.2,126.2 561.7,126.5 562.1,127.4 562.6,127.8 563.0,128.6 563.4,129.4 563.9,129.7 564.3,130.7 564.8,131.3 565.2,131.8 565.7,132.5 566.1,133.5 566.6,133.9 567.0,134.4 567.5,135.2 567.9,136.0 568.4,136.6 568.8,137.2 569.3,137.9 569.7,138.4 570.2,139.3 570.7,140.0 571.1,140.3 571.6,141.3 572.0,141.8 572.5,142.9 573.0,143.6 573.4,143.7 573.9,144.7 574.4,145.1 574.9,145.6 575.3,146.8 575.8,147.4 576.3,148.0 576.8,148.6 577.2,149.4 577.7,149.8 578.2,150.5 578.7,151.1 579.2,151.9 579.7,152.5 580.2,152.8 580.7,153.4 581.2,154.2 581.7,154.9 582.2,155.3 582.7,156.3 583.2,156.9 583.7,157.5 584.2,158.0 584.7,158.7 585.2,159.0 585.7,160.0 586.3,160.1 586.8,161.3 587.3,161.7 587.8,162.1 588.3,162.6 588.9,163.5 589.4,164.0 589.9,164.8 590.5,164.9 591.0,166.1 591.6,166.3 592.1,166.9 592.7,167.7 593.2,168.2 593.8,168.7 594.3,169.2 594.9,169.8 595.4,170.1 596.0,170.8 596.6,171.8 597.1,171.9 597.7,172.4 598.3,173.5 598.8,173.7 599.4,174.4 600.0,175.0 600.6,175.6 601.2,175.9 601.8,176.7 602.3,176.7 602.9,177.8 603.5,178.0 604.1,178.7 604.7,179.0 605.3,179.8 606.0,180.1 606.6,180.8 607.2,181.1 607.8,181.9 608.4,182.4 609.0,182.5 609.7,183.4 610.3,184.0 610.9,184.0 611.6,184.4 612.2,185.4 612.9,185.9 613.5,185.8 614.2,186.7 614.8,187.3 615.5,187.3 616.1,188.1 616.8,188.2 617.4,189.0 618.1,189.3 618.8,189.7 619.5,189.9 620.1,190.7 620.8,191.1 621.5,191.3 622.2,191.5 622.9,192.0 623.6,192.5 624.3,193.4 625.0,193.6 625.7,194.2 626.4,194.4 627.1,194.4 627.8,195.0 628.5,195.8 629.2,196.1 629.9,196.6 630.6,196.8 631.3,197.1 632.0,197.6 632.8,198.0 633.5,198.1 634.2,198.2 634.9,198.8 635.6,198.9 636.3,199.5 637.1,200.1 637.8,200.2 638.5,200.5 639.2,200.8 639.9,201.4 640.7,201.8 641.4,202.2 642.1,202.9 642.8,202.6 643.5,203.1 644.3,203.3 645.0,204.3 645.7,204.4 646.4,204.8 647.1,205.3 647.9,205.1 648.6,206.1 649.3,206.0 650.0,206.6 650.7,206.8 651.4,207.4 652.2,207.4 652.9,207.7 653.6,208.1 654.3,208.7 655.0,208.9 655.8,209.0 656.5,209.5 657.2,209.9 658.0,210.1 658.7,210.6 659.4,211.0 660.2,211.2 660.9,211.6 661.6,211.5 662.4,212.2 663.1,212.5 663.9,212.5 664.6,212.4 665.4,212.7 666.1,213.4 666.9,213.7 667.7,213.9 668.4,213.9 669.2,214.2 670.0,214.1 670.7,214.6 671.5,215.1 672.3,214.7 673.1,215.2 673.8,215.6 674.6,215.6 675.4,215.5 676.2,215.6 677.0,216.1 677.8,216.4 678.6,216.5 679.4,216.3 680.2,216.7 681.0,216.9 681.7,216.7 682.5,217.1 683.3,217.0 684.1,217.0 684.9,216.9 685.7,217.6 686.6,217.7 687.4,217.3 688.2,217.4 689.0,217.7 689.8,217.7 690.6,218.2 691.4,217.9 692.2,218.3 693.0,218.3 693.8,218.3 694.6,218.7 695.4,218.5 696.2,218.6 697.0,218.8 697.8,218.7 698.6,218.6 699.4,219.2 700.2,219.2 701.0,219.1 701.8,219.2 702.6,219.3 703.4,219.2 704.2,219.1 705.0,219.5 705.8,219.8 706.6,219.3 707.4,220.0 708.1,219.7 708.9,220.2 709.7,220.1 710.5,219.8"/>
<line x1="442.6" y1="221" x2="442.6" y2="82.8" stroke="#555" stroke-width="1.5"/>
<polyline stroke="#4a4a4a" stroke-width="1.45" points="38.6,533.3 39.4,533.4 40.2,533.3 41.1,533.6 41.9,533.1 42.7,533.3 43.5,533.3 44.3,533.1 45.1,533.3 46.0,533.3 46.8,533.2 47.6,533.5 48.4,533.7 49.2,533.7 50.0,533.1 50.9,533.2 51.7,533.7 52.5,533.0 53.3,533.0 54.1,533.0 54.9,533.7 55.8,533.3 56.6,533.2 57.4,533.0 58.2,533.6 59.0,533.7 59.8,533.5 60.7,533.6 61.5,533.4 62.3,533.1 63.1,533.0 63.9,533.1 64.7,533.0 65.6,533.2 66.4,532.9 67.2,532.9 68.0,533.6 68.8,533.6 69.6,533.6 70.5,533.2 71.3,533.3 72.1,533.3 72.9,533.3 72.9,533.3 73.1,532.5 73.3,531.8 73.5,531.0 73.7,530.2 73.9,529.3 74.1,528.6 74.2,527.9 74.4,527.0 74.6,526.3 74.7,525.4 74.9,524.7 75.0,523.9 75.1,523.1 75.3,522.3 75.4,521.5 75.5,520.7 75.7,520.0 75.8,519.2 75.9,518.3 76.1,517.6 76.2,516.8 76.3,516.0 76.4,515.2 76.6,514.4 76.7,513.6 76.8,512.8 76.9,512.0 77.1,511.2 77.2,510.4 77.4,509.6 77.5,508.9 77.7,508.0 77.8,507.2 78.0,506.5 78.1,505.7 78.3,504.8 78.5,504.1 78.7,503.3 78.8,502.5 79.0,501.7 79.2,501.0 79.3,500.2 79.5,499.4 79.6,498.5 79.7,497.8 79.8,497.0 79.9,496.2 80.0,495.3 80.1,494.6 80.1,493.7 80.2,492.9 80.3,492.1 80.4,491.3 80.5,490.5 80.6,489.7 80.8,489.0 80.9,488.2 81.1,487.4 81.3,486.7 81.5,485.9 81.7,485.0 81.9,484.3 82.1,483.5 82.3,482.8 82.5,482.0 82.7,481.2 83.0,480.5 83.2,479.7 83.4,478.9 83.6,478.1 83.9,477.3 84.1,476.6 84.3,475.8 84.5,475.1 84.7,474.2 84.9,473.5 85.1,472.7 85.3,471.9 85.5,471.1 85.7,470.3 85.8,469.5 86.0,468.7 86.2,468.0 86.4,467.3 86.5,466.4 86.7,465.7 86.8,464.9 87.0,464.0 87.1,463.3 87.3,462.5 87.4,461.7 87.6,460.9 87.7,460.1 87.8,459.3 87.9,458.5 88.1,457.7 88.2,456.9 88.3,456.1 88.4,455.3 88.5,454.5 88.7,453.7 88.8,453.0 88.9,452.1 89.0,451.3 89.1,450.6 89.2,449.8 89.3,448.9 89.4,448.2 89.6,447.4 89.7,446.5 89.8,445.7 89.9,444.9 90.1,444.2 90.2,443.4 90.3,442.6 90.4,441.8 90.6,441.0 90.7,440.2 90.9,439.4 91.0,438.7 91.1,437.9 91.3,437.0 91.4,436.3 91.5,435.5 91.7,434.8 91.8,434.0 92.0,433.1 92.1,432.3 92.2,431.5 92.3,430.8 92.5,429.9 92.6,429.2 92.7,428.3 92.8,427.5 93.0,426.7 93.1,425.9 93.3,425.1 93.5,424.3 93.7,423.6 93.9,422.8 94.1,422.0 94.4,421.3 94.8,420.6 95.1,419.8 95.5,419.2 96.0,418.5 96.4,417.8 96.8,417.1 97.2,416.4 97.5,415.6 97.8,414.9 98.0,414.2 98.2,413.4 98.4,412.6 98.6,411.9 98.8,411.1 99.0,410.3 99.2,409.4 99.3,408.7 99.5,407.9 99.6,407.1 99.8,406.3 100.0,405.5 100.1,404.7 100.3,404.0 100.4,403.1 100.6,402.3 100.8,401.6 100.9,400.8 101.1,400.1 101.3,399.2 101.4,398.5 101.6,397.7 101.8,396.9 102.0,396.1 102.1,395.2 102.3,394.6 102.5,393.7 102.7,392.9 103.0,392.2 103.2,391.4 103.5,390.7 103.8,390.0 104.1,389.2 104.4,388.4 104.8,387.7 105.2,387.1 105.7,386.5 106.2,385.8 106.8,385.2 107.3,384.7 107.8,384.0 108.3,383.4 108.7,382.7 109.0,381.9 109.3,381.3 109.6,380.5 109.9,379.7 110.1,379.0 110.4,378.3 110.6,377.4 110.9,376.7 111.1,375.9 111.4,375.2 111.6,374.3 111.9,373.6 112.2,372.7 112.6,372.0 113.0,371.3 113.4,370.6 113.8,369.9 114.3,369.3 114.8,368.7 115.3,368.1 115.9,367.6 116.5,367.1 117.2,366.6 117.9,366.3 118.6,365.9 119.4,365.5 120.1,365.2 120.8,364.7 121.3,364.2 121.8,363.6 122.2,363.0 122.6,362.2 122.9,361.5 123.1,360.7 123.4,359.8 123.8,359.0 124.1,358.4 124.5,357.6 124.9,356.9 125.4,356.2 125.9,355.6 126.5,355.1 127.1,354.6 127.8,354.2 128.5,353.9 129.3,353.8 130.1,353.6 130.9,353.7 131.7,353.8 132.4,353.6 133.1,353.2 133.7,352.6 134.2,352.0 134.8,351.3 135.4,350.8 136.0,350.2 136.6,349.8 137.0,348.1 137.4,348.0 137.8,347.9 138.2,347.9 138.6,347.8 139.0,347.8 139.4,347.6 139.8,347.6 140.2,347.6 140.6,347.8 141.0,348.0 141.4,348.2 141.8,348.4 142.2,348.6 142.6,348.8 143.0,349.0 143.4,349.2 143.8,349.4 144.2,349.5 144.6,349.4 145.0,349.1 145.4,348.8 145.8,348.5 146.2,348.1 146.6,347.7 147.0,347.3 147.4,347.0 147.8,346.6 148.2,346.2 148.6,345.8 149.0,345.7 149.4,345.6 149.8,345.5 150.2,345.4 150.6,345.4 151.0,345.4 151.4,345.3 151.8,345.3 152.2,345.5 152.6,345.8 153.0,346.0 153.4,346.2 153.8,346.5 154.2,346.8 154.6,347.1 155.0,347.2 155.4,347.6 155.8,347.7 156.2,347.9 156.6,347.6 157.0,347.3 157.4,347.0 157.8,346.7 158.2,346.3 158.6,345.9 159.0,345.5 159.4,345.3 159.8,344.8 160.2,344.5 160.6,344.2 161.0,344.2 161.4,344.1 161.8,343.9 162.2,343.9 162.6,343.8 163.0,343.9 163.4,343.9 163.8,343.8 164.2,344.1 164.6,344.4 165.0,344.6 165.4,344.8 165.8,345.2 166.2,345.5 166.6,345.7 167.0,346.0 167.4,346.3 167.8,346.5 168.2,346.5 168.6,346.2 169.0,345.8 169.4,345.4 169.8,345.1 170.2,344.7 170.6,344.3 171.0,344.0 171.4,343.6 171.8,343.2 172.2,342.9 172.6,342.8 173.0,342.7 173.4,342.6 173.8,342.6 174.2,342.6 174.6,342.6 175.0,342.6 175.4,342.6 175.8,342.7 176.2,343.1 176.6,343.5 177.0,343.7 177.4,344.1 177.8,344.4 178.2,344.8 178.6,345.0 179.0,345.3 179.4,345.6 179.8,345.8 180.2,345.5 180.6,345.3 181.0,345.0 181.4,344.6 181.8,344.3 182.2,344.0 182.6,343.7 183.0,343.4 183.4,343.0 183.8,342.6 184.2,342.4 184.6,342.3 185.0,342.3 185.4,342.3 185.8,342.3 186.2,342.3 186.6,342.3 187.0,342.3 187.4,342.4 187.8,342.7 188.2,343.0 188.6,343.3 189.0,343.7 189.4,344.0 189.8,344.3 190.2,344.7 190.6,345.0 191.0,345.3 191.4,345.5 191.8,345.6 192.2,345.2 192.6,344.9 193.0,344.7 193.4,344.4 193.8,344.0 194.2,343.6 194.6,343.3 195.0,343.0 195.4,342.6 195.8,342.2 196.2,342.1 196.6,342.2 197.0,342.1 197.4,342.1 197.8,342.1 198.2,342.1 198.6,342.2 199.0,342.2 199.4,342.4 199.8,342.7 200.2,343.0 200.6,343.4 201.0,343.7 201.4,344.0 201.8,344.3 202.2,344.7 202.6,345.0 203.0,345.3 203.4,345.5 203.8,345.3 204.2,345.0 204.6,344.6 205.0,344.3 205.4,344.1 205.8,343.7 206.2,343.4 206.6,343.0 207.0,342.6 207.4,342.3 207.8,342.1 208.2,342.1 208.6,342.1 209.0,342.0 209.4,342.0 209.8,342.0 210.2,342.0 210.6,342.1 211.0,342.2 211.4,342.5 211.8,342.8 212.2,343.1 212.6,343.5 213.0,343.8 213.4,344.1 213.8,344.5 214.2,344.8 214.6,345.0 215.0,345.4 215.4,345.3 215.8,345.0 216.2,344.8 216.6,344.5 217.0,344.1 217.4,343.8 217.8,343.5 218.2,343.1 218.6,342.8 219.0,342.5 219.4,342.2 219.8,342.0 220.2,342.0 220.6,341.9 221.0,341.9 221.4,341.9 221.8,342.0 222.2,342.0 222.6,342.1 223.0,342.2 223.4,342.6 223.8,343.0 224.2,343.2 224.6,343.7 225.0,343.9 225.4,344.3 225.8,344.6 226.2,344.9 226.6,345.2 227.0,345.4 227.4,345.1 227.8,344.9 228.2,344.6 228.6,344.2 229.0,343.9 229.4,343.6 229.8,343.2 230.2,342.9 230.6,342.6 231.0,342.2 231.4,342.1 231.8,342.0 232.2,341.9 232.6,341.9 233.0,341.9 233.4,342.0 233.8,341.9 234.2,341.9 234.6,342.1 235.0,342.4 235.4,342.7 235.8,343.0 236.2,343.3 236.6,343.8 237.0,344.1 237.4,344.3 237.8,344.7 238.2,344.9 238.6,345.3 239.0,345.3 239.4,345.0 239.8,344.7 240.2,344.3 240.6,344.1 241.0,343.7 241.4,343.3 241.8,343.0 242.2,342.7 242.6,342.3 243.0,342.0 243.4,341.9 243.8,341.9 244.2,341.9 244.6,341.9 245.0,341.8 245.4,341.9 245.8,342.0 246.2,342.0 246.6,342.2 247.0,342.4 247.4,342.9 247.8,343.2 248.2,343.5 248.6,343.9 249.0,344.1 249.4,344.5 249.8,344.7 250.2,345.0 250.6,345.3 251.0,345.1 251.4,344.8 251.8,344.5 252.2,344.1 252.6,343.8 253.0,343.5 253.4,343.2 253.8,342.8 254.2,342.5 254.6,342.1 255.0,342.0 255.4,341.8 255.8,341.8 256.2,341.8 256.6,341.8 257.0,341.8 257.4,341.8 257.8,341.9 258.2,341.9 258.6,342.2 259.0,342.6 259.4,343.0 259.8,343.3 260.2,343.6 260.6,344.0 261.0,344.3 261.4,344.6 261.8,344.8 262.2,345.1 262.6,345.2 263.0,344.9 263.4,344.5 263.8,344.3 264.2,343.9 264.6,343.6 265.0,343.2 265.4,342.9 265.8,342.6 266.2,342.2 266.6,341.9 267.0,341.9 267.4,341.8 267.8,341.7 268.2,342.5 269.0,342.4 269.8,342.4 270.5,342.5 271.1,342.7 271.8,343.2 272.4,343.6 273.0,344.1 273.7,344.7 274.3,345.2 274.8,345.9 275.4,346.5 276.0,347.0 276.6,347.7 277.1,348.2 277.7,348.8 278.2,349.4 278.7,350.0 279.3,350.5 279.8,351.2 280.3,351.7 280.8,352.4 281.3,353.0 281.8,353.7 282.2,354.4 282.6,355.1 283.0,355.8 283.3,356.4 283.6,357.1 283.9,358.0 284.1,358.7 284.4,359.5 284.6,360.3 284.8,361.0 285.0,361.8 285.2,362.6 285.3,363.4 285.5,364.2 285.7,364.9 285.8,365.8 286.0,366.5 286.2,367.4 286.3,368.1 286.5,368.9 286.7,369.7 286.8,370.5 287.0,371.3 287.1,372.1 287.3,372.9 287.4,373.7 287.5,374.5 287.7,375.3 287.8,376.1 288.0,376.8 288.1,377.6 288.2,378.4 288.3,379.3 288.5,380.0 288.6,380.8 288.7,381.6 288.8,382.4 288.9,383.2 289.0,384.0 289.1,384.7 289.2,385.6 289.3,386.4 289.4,387.2 289.5,388.0 289.6,388.7 289.7,389.6 289.8,390.4 289.9,391.1 290.0,391.9 290.1,392.8 290.1,393.5 290.2,394.3 290.3,395.1 290.3,396.0 290.4,396.8 290.5,397.6 290.5,398.4 290.6,399.2 290.6,399.9 290.7,400.8 290.7,401.6 290.8,402.4 290.8,403.2 290.9,404.0 290.9,404.8 291.0,405.6 291.0,406.4 291.1,407.2 291.2,408.1 291.2,408.8 291.3,409.6 291.3,410.4 291.4,411.2 291.5,412.0 291.5,412.8 291.6,413.7 291.7,414.4 291.7,415.2 291.8,416.0 291.9,416.8 292.0,417.7 292.1,418.5 292.2,419.3 292.2,420.0 292.3,420.9 292.4,421.6 292.5,422.4 292.6,423.3 292.7,424.1 292.8,424.8 292.9,425.7 293.0,426.5 293.1,427.2 293.2,428.0 293.3,428.9 293.4,429.6 293.5,430.4 293.6,431.2 293.7,432.0 293.8,432.8 293.9,433.7 294.0,434.4 294.1,435.2 294.2,435.9 294.3,436.8 294.4,437.6 294.5,438.4 294.7,439.2 294.8,440.0 294.9,440.8 295.0,441.5 295.1,442.4 295.2,443.2 295.3,444.0 295.4,444.7 295.6,445.5 295.7,446.4 295.8,447.2 295.9,448.0 296.0,448.7 296.1,449.5 296.3,450.3 296.4,451.1 296.5,451.9 296.6,452.7 296.8,453.5 296.9,454.3 297.0,455.1 297.1,456.0 297.3,456.7 297.4,457.5 297.5,458.3 297.7,459.0 297.8,459.8 297.9,460.7 298.1,461.4 298.2,462.2 298.3,463.0 298.5,463.9 298.6,464.6 298.8,465.4 298.9,466.2 299.1,467.0 299.2,467.8 299.3,468.5 299.5,469.4 299.6,470.2 299.8,470.9 299.9,471.7 300.1,472.5 300.3,473.3 300.4,474.1 300.6,474.9 300.7,475.7 300.9,476.5 301.0,477.2 301.2,478.0 301.4,478.8 301.5,479.6 301.7,480.4 301.9,481.2 302.0,482.0 302.2,482.7 302.4,483.6 302.5,484.4 302.7,485.1 302.9,485.9 303.0,486.7 303.2,487.5 303.4,488.3 303.6,489.1 303.8,489.8 303.9,490.7 304.1,491.4 304.3,492.2 304.5,493.0 304.7,493.7 304.8,494.5 305.0,495.3 305.2,496.1 305.4,496.9 305.6,497.6 305.8,498.4 306.0,499.3 306.2,500.0 306.4,500.9 306.6,501.6 306.7,502.4 306.9,503.1 307.1,504.0 307.3,504.7 307.5,505.5 307.7,506.3 307.9,507.0 308.1,507.8 308.3,508.7 308.5,509.4 308.7,510.1 308.9,510.9 309.1,511.7 309.3,512.5 309.5,513.3 309.7,514.0 309.9,514.8 310.1,515.6 310.4,516.4 310.6,517.2 310.8,517.9 311.1,518.7 311.4,519.5 311.7,520.2 311.9,520.9 312.3,521.7 312.6,522.5 312.9,523.2 313.3,523.9 313.6,524.7 314.0,525.4 314.5,526.0 314.9,526.7 315.4,527.4 315.8,528.0 316.4,528.6 316.9,529.2 317.5,529.8 318.1,530.3 318.7,530.8 319.4,531.2 320.1,531.6 320.8,532.0 321.6,532.3 322.3,532.5 323.1,533.1 323.9,532.9 324.6,533.1 325.4,533.6 326.2,533.4 327.0,533.4 327.8,533.6 328.6,533.7 329.4,533.7 330.2,533.6 331.0,533.7 331.8,533.6 332.6,533.5 333.4,533.7 334.2,533.5 335.1,533.5 335.9,533.9 336.7,533.8 337.5,533.5 338.3,533.6 339.1,533.3 339.9,533.3 340.7,533.6 341.5,533.8 342.3,533.3 343.1,533.6 343.9,533.8 344.7,533.3 345.5,533.7 346.3,533.5 347.1,533.8 347.9,533.8 348.7,533.9 349.5,533.9 350.3,533.4 351.1,533.8 351.9,533.8 352.7,533.6 353.6,533.6 354.4,533.7 355.2,533.7 356.0,533.7 356.8,534.0 357.6,533.6 358.4,533.9 359.2,533.5 360.0,533.8"/>
<polyline stroke="#000" stroke-width="2.3" points="38.6,533.3 39.4,533.3 40.2,533.4 41.1,533.0 41.9,533.1 42.7,533.3 43.5,533.1 44.3,533.7 45.1,533.6 46.0,533.5 46.8,533.6 47.6,533.1 48.4,532.9 49.2,533.0 50.0,533.8 50.9,533.4 51.7,533.9 52.5,533.2 53.3,533.3 54.1,533.5 54.9,533.7 55.8,533.3 56.6,533.4 57.4,533.3 58.2,533.1 59.0,533.8 59.8,533.8 60.7,533.3 61.5,533.0 62.3,533.8 63.1,533.4 63.9,533.6 64.7,533.3 65.6,533.0 66.4,533.6 67.2,533.0 68.0,533.8 68.8,533.1 69.6,533.2 70.5,532.9 71.3,533.1 72.1,533.5 72.9,533.4 72.9,533.4 73.1,532.6 73.3,531.8 73.5,531.1 73.7,530.2 73.8,529.5 74.0,528.7 74.2,527.9 74.4,527.2 74.5,526.4 74.7,525.5 74.8,524.8 75.0,524.0 75.1,523.1 75.3,522.4 75.4,521.5 75.5,520.8 75.7,520.0 75.8,519.2 75.9,518.4 76.1,517.6 76.2,516.8 76.3,516.0 76.5,515.2 76.6,514.4 76.7,513.7 76.9,512.9 77.0,512.1 77.1,511.2 77.3,510.5 77.4,509.7 77.5,508.8 77.7,508.1 77.8,507.2 78.0,506.4 78.1,505.7 78.3,504.9 78.5,504.1 78.6,503.3 78.8,502.5 78.9,501.7 79.1,500.9 79.3,500.1 79.5,499.3 79.6,498.5 79.8,497.8 80.0,497.0 80.2,496.2 80.3,495.4 80.5,494.7 80.7,493.9 80.9,493.0 81.1,492.3 81.3,491.5 81.5,490.7 81.7,490.0 81.9,489.1 82.1,488.4 82.3,487.6 82.5,486.9 82.7,486.1 82.9,485.3 83.2,484.5 83.4,483.7 83.6,483.0 83.9,482.2 84.1,481.4 84.3,480.7 84.5,479.9 84.7,479.1 84.9,478.3 85.0,477.5 85.2,476.8 85.3,476.0 85.5,475.1 85.6,474.3 85.8,473.5 85.9,472.7 86.1,471.9 86.3,471.2 86.5,470.4 86.7,469.6 86.9,468.8 87.1,468.0 87.3,467.2 87.6,466.6 87.8,465.8 88.0,465.0 88.2,464.2 88.5,463.4 88.7,462.6 88.9,461.8 89.1,461.0 89.3,460.3 89.5,459.6 89.7,458.7 89.9,457.9 90.1,457.1 90.3,456.3 90.5,455.5 90.7,454.8 90.9,454.0 91.1,453.2 91.3,452.4 91.5,451.7 91.8,450.9 92.0,450.1 92.2,449.4 92.5,448.6 92.8,447.9 93.1,447.1 93.4,446.4 93.7,445.6 94.1,444.9 94.5,444.3 94.9,443.5 95.4,442.9 95.9,442.2 96.4,441.6 96.8,441.0 97.3,440.3 97.7,439.6 98.0,438.9 98.4,438.2 98.7,437.4 98.9,436.7 99.2,435.9 99.5,435.1 99.7,434.3 99.9,433.6 100.2,432.8 100.4,432.0 100.6,431.3 100.9,430.4 101.1,429.7 101.4,428.9 101.6,428.2 101.9,427.4 102.2,426.6 102.5,425.9 102.9,425.2 103.2,424.5 103.6,423.8 104.0,423.1 104.4,422.4 104.9,421.8 105.4,421.1 105.9,420.5 106.4,419.9 106.9,419.2 107.4,418.6 107.9,417.9 108.3,417.3 108.7,416.6 109.2,416.0 109.6,415.2 110.0,414.6 110.4,413.8 110.9,413.2 111.3,412.5 111.7,411.8 112.2,411.1 112.7,410.5 113.2,409.9 113.8,409.3 114.3,408.7 114.9,408.2 115.5,407.7 116.2,407.2 116.8,406.8 117.6,406.5 118.3,406.2 119.1,405.9 119.8,405.6 120.5,405.2 121.2,404.8 121.9,404.3 122.5,403.9 123.1,403.3 123.6,402.6 124.2,402.0 124.8,401.5 125.3,400.9 125.9,400.4 126.5,399.9 127.2,399.5 127.9,399.3 128.7,399.2 129.5,399.0 130.3,398.9 131.2,398.9 132.0,399.0 132.5,399.0 132.9,398.7 133.3,398.4 133.7,398.0 134.1,397.6 134.5,397.2 134.9,396.8 135.3,396.4 135.7,396.0 136.1,395.6 136.5,395.3 136.9,395.0 137.3,394.7 137.7,394.6 138.1,394.3 138.5,394.2 138.9,394.1 139.3,393.9 139.7,393.8 140.1,393.9 140.5,393.9 140.9,394.0 141.3,394.1 141.7,394.2 142.1,394.3 142.5,394.4 142.9,394.5 143.3,394.6 143.7,394.7 144.1,394.7 144.5,394.7 144.9,394.4 145.3,394.1 145.7,393.8 146.1,393.5 146.5,393.2 146.9,392.8 147.3,392.5 147.7,392.1 148.1,391.8 148.5,391.5 148.9,391.2 149.3,391.1 149.7,390.9 150.1,390.9 150.5,390.8 150.9,390.7 151.3,390.7 151.7,390.8 152.1,390.9 152.5,391.0 152.9,391.2 153.3,391.5 153.7,391.7 154.1,391.8 154.5,392.1 154.9,392.3 155.3,392.4 155.7,392.6 156.1,392.8 156.5,392.6 156.9,392.4 157.3,392.2 157.7,391.9 158.1,391.7 158.5,391.4 158.9,391.1 159.3,390.9 159.7,390.6 160.1,390.4 160.5,390.1 160.9,390.1 161.3,390.1 161.7,390.1 162.1,390.1 162.5,390.1 162.9,390.0 163.3,390.0 163.7,390.1 164.1,390.2 164.5,390.4 164.9,390.7 165.3,390.8 165.7,391.1 166.1,391.2 166.5,391.5 166.9,391.6 167.3,391.9 167.7,392.0 168.1,392.2 168.5,391.9 168.9,391.7 169.3,391.5 169.7,391.2 170.1,391.1 170.5,390.8 170.9,390.5 171.3,390.3 171.7,390.2 172.1,389.8 172.5,389.8 172.9,389.7 173.3,389.8 173.7,389.8 174.1,389.6 174.5,389.7 174.9,389.8 175.3,389.7 175.7,389.9 176.1,390.1 176.5,390.3 176.9,390.5 177.3,390.8 177.7,391.0 178.1,391.2 178.5,391.4 178.9,391.7 179.3,391.9 179.7,392.0 180.1,392.0 180.5,391.7 180.9,391.5 181.3,391.4 181.7,391.1 182.1,390.9 182.5,390.7 182.9,390.4 183.3,390.2 183.7,390.0 184.1,389.7 184.5,389.7 184.9,389.7 185.3,389.6 185.7,389.6 186.1,389.7 186.5,389.7 186.9,389.7 187.3,389.8 187.7,390.0 188.1,390.1 188.5,390.5 188.9,390.6 189.3,390.9 189.7,391.1 190.1,391.3 190.5,391.5 190.9,391.7 191.3,391.9 191.7,392.1 192.1,391.9 192.5,391.7 192.9,391.4 193.3,391.2 193.7,391.0 194.1,390.8 194.5,390.6 194.9,390.3 195.3,390.1 195.7,389.8 196.1,389.7 196.5,389.7 196.9,389.7 197.3,389.7 197.7,389.7 198.1,389.7 198.5,389.7 198.9,389.7 199.3,389.9 199.7,390.0 200.1,390.3 200.5,390.4 200.9,390.7 201.3,391.0 201.7,391.2 202.1,391.5 202.5,391.6 202.9,391.8 203.3,391.9 203.7,391.9 204.1,391.7 204.5,391.5 204.9,391.3 205.3,391.0 205.7,390.9 206.1,390.6 206.5,390.4 206.9,390.1 207.3,389.9 207.7,389.7 208.1,389.7 208.5,389.7 208.9,389.6 209.3,389.6 209.7,389.6 210.1,389.6 210.5,389.6 210.9,389.7 211.3,389.8 211.7,390.1 212.1,390.4 212.5,390.6 212.9,390.8 213.3,391.1 213.7,391.2 214.1,391.5 214.5,391.6 214.9,391.9 215.3,392.0 215.7,391.8 216.1,391.6 216.5,391.4 216.9,391.1 217.3,390.9 217.7,390.7 218.1,390.5 218.5,390.2 218.9,390.0 219.3,389.8 219.7,389.7 220.1,389.7 220.5,389.6 220.9,389.6 221.3,389.5 221.7,389.6 222.1,389.6 222.5,389.7 222.9,389.7 223.3,390.0 223.7,390.2 224.1,390.5 224.5,390.7 224.9,390.9 225.3,391.1 225.7,391.3 226.1,391.6 226.5,391.7 226.9,391.9 227.3,391.8 227.7,391.7 228.1,391.5 228.5,391.2 228.9,391.1 229.3,390.8 229.7,390.6 230.1,390.4 230.5,390.1 230.9,389.8 231.3,389.7 231.7,389.6 232.1,389.6 232.5,389.6 232.9,389.5 233.3,389.5 233.7,389.6 234.1,389.6 234.5,389.6 234.9,389.9 235.3,390.1 235.7,390.3 236.1,390.6 236.5,390.7 236.9,391.0 237.3,391.2 237.7,391.4 238.1,391.6 238.5,391.9 238.9,391.9 239.3,391.8 239.7,391.5 240.1,391.3 240.5,391.1 240.9,390.9 241.3,390.6 241.7,390.4 242.1,390.2 242.5,390.0 242.9,389.7 243.3,389.6 243.7,389.6 244.1,389.6 244.5,389.6 244.9,389.5 245.3,389.6 245.7,389.6 246.1,389.6 246.5,389.7 246.9,390.0 247.3,390.2 247.7,390.4 248.1,390.6 248.5,390.8 248.9,391.0 249.3,391.3 249.7,391.5 250.1,391.7 250.5,391.9 250.9,391.8 251.3,391.6 251.7,391.4 252.1,391.2 252.5,391.0 252.9,390.7 253.3,390.5 253.7,390.3 254.1,390.0 254.5,389.8 254.9,389.6 255.3,389.6 255.7,389.5 256.1,389.6 256.5,389.5 256.9,389.5 257.3,389.5 257.7,389.6 258.1,389.6 258.5,389.8 258.9,390.0 259.3,390.3 259.7,390.4 260.1,390.8 260.5,390.9 260.9,391.1 261.3,391.4 261.7,391.6 262.1,391.8 262.5,391.9 262.9,391.7 263.3,391.4 263.7,391.2 264.1,391.0 264.5,390.8 264.9,390.6 265.3,390.3 265.7,390.1 266.1,389.9 266.5,389.6 266.9,389.5 267.3,389.6 267.7,389.6 268.1,389.5 268.5,389.6 268.9,389.6 269.3,389.5 269.7,389.5 270.2,389.7 271.0,389.9 271.7,390.2 272.5,390.4 273.2,390.8 273.9,391.2 274.6,391.5 275.3,391.9 276.0,392.4 276.7,392.7 277.4,393.3 278.0,393.7 278.6,394.3 279.2,394.8 279.8,395.4 280.4,395.9 280.9,396.5 281.4,397.1 281.9,397.8 282.4,398.4 282.9,399.0 283.3,399.8 283.7,400.4 284.1,401.1 284.5,401.8 284.9,402.5 285.3,403.2 285.6,404.0 285.9,404.6 286.2,405.4 286.6,406.1 286.9,406.9 287.1,407.6 287.4,408.5 287.7,409.1 287.9,410.0 288.2,410.7 288.5,411.5 288.7,412.3 288.9,413.1 289.2,413.8 289.4,414.6 289.6,415.3 289.8,416.2 290.1,417.0 290.3,417.6 290.5,418.4 290.7,419.3 290.9,420.0 291.1,420.8 291.3,421.6 291.5,422.4 291.7,423.2 291.8,424.0 292.0,424.8 292.2,425.5 292.4,426.3 292.5,427.1 292.7,427.9 292.9,428.7 293.0,429.4 293.2,430.2 293.3,431.0 293.5,431.8 293.6,432.6 293.8,433.4 293.9,434.2 294.0,435.0 294.2,435.8 294.3,436.6 294.4,437.3 294.6,438.1 294.7,439.0 294.8,439.7 294.9,440.6 295.0,441.3 295.1,442.1 295.3,443.0 295.4,443.7 295.5,444.5 295.6,445.3 295.7,446.1 295.8,446.9 295.9,447.7 296.0,448.5 296.1,449.3 296.2,450.0 296.4,450.9 296.5,451.8 296.6,452.5 296.7,453.3 296.8,454.0 296.9,454.9 297.0,455.6 297.2,456.5 297.3,457.3 297.4,458.1 297.5,458.9 297.7,459.7 297.8,460.4 297.9,461.2 298.1,462.0 298.2,462.9 298.4,463.6 298.5,464.4 298.7,465.3 298.8,466.1 299.0,466.8 299.1,467.6 299.3,468.4 299.5,469.2 299.6,469.9 299.8,470.7 299.9,471.6 300.1,472.4 300.3,473.2 300.4,473.9 300.6,474.6 300.8,475.5 300.9,476.2 301.1,477.1 301.3,477.8 301.5,478.7 301.6,479.4 301.8,480.2 302.0,481.0 302.2,481.8 302.4,482.6 302.6,483.2 302.9,484.0 303.1,484.8 303.3,485.6 303.6,486.4 303.8,487.1 304.1,487.8 304.3,488.6 304.6,489.4 304.8,490.2 305.1,491.0 305.3,491.8 305.6,492.4 305.8,493.3 306.1,494.0 306.3,494.8 306.5,495.5 306.8,496.3 307.0,497.1 307.3,497.8 307.5,498.6 307.8,499.3 308.0,500.1 308.3,500.9 308.5,501.6 308.7,502.4 309.0,503.2 309.2,504.0 309.4,504.7 309.7,505.5 309.9,506.3 310.1,507.1 310.4,507.8 310.6,508.6 310.8,509.4 311.1,510.1 311.3,510.9 311.6,511.6 311.8,512.4 312.1,513.2 312.4,513.9 312.6,514.7 312.9,515.4 313.2,516.2 313.5,517.0 313.8,517.7 314.2,518.4 314.5,519.1 314.9,519.9 315.2,520.6 315.6,521.3 316.0,522.1 316.4,522.7 316.8,523.4 317.3,524.1 317.7,524.8 318.2,525.4 318.7,526.1 319.2,526.8 319.7,527.5 320.3,528.0 320.9,528.5 321.4,529.1 322.0,529.6 322.6,530.1 323.3,530.6 323.9,531.1 324.6,531.5 325.3,531.8 326.0,532.2 326.7,532.6 327.5,532.8 328.2,533.0 329.0,533.2 329.8,533.4 330.6,533.5 331.4,533.6 332.2,533.7 333.0,533.7 333.9,533.7 334.7,533.7"/>
<polyline stroke="#4a4a4a" stroke-width="1.45" points="424.0,529.2 424.8,529.5 425.6,529.6 426.4,529.1 427.2,529.0 428.0,528.9 428.8,529.1 429.6,529.0 430.4,529.1 431.2,529.0 432.0,529.2 432.8,529.0 433.6,529.7 434.4,529.0 435.2,528.9 436.0,529.6 436.8,529.2 437.6,529.5 438.4,529.2 439.2,528.9 440.0,528.9 440.8,529.6 441.6,528.9 442.4,529.3 443.2,529.1 444.0,529.4 444.8,529.2 445.6,529.5 446.4,529.1 447.2,529.3 448.0,529.7 448.8,529.3 449.6,529.7 450.4,528.9 451.2,529.6 452.0,529.2 452.8,529.7 453.6,529.5 454.4,529.1 455.2,529.5 456.0,529.0 456.8,529.3 457.6,529.5 458.4,529.0 459.2,528.9 460.0,529.6 460.8,529.1 461.6,529.5 462.4,529.3 463.2,529.1 464.0,529.3 464.0,529.3 464.1,528.5 464.3,527.8 464.4,527.0 464.5,526.1 464.6,525.4 464.7,524.5 464.9,523.8 465.0,522.9 465.1,522.1 465.2,521.3 465.3,520.5 465.4,519.8 465.5,518.9 465.6,518.1 465.8,517.4 465.9,516.5 466.0,515.7 466.1,514.9 466.2,514.2 466.3,513.3 466.4,512.5 466.5,511.8 466.6,510.9 466.8,510.2 466.9,509.3 467.0,508.5 467.1,507.8 467.2,507.0 467.3,506.2 467.5,505.3 467.6,504.5 467.7,503.7 467.8,503.0 468.0,502.2 468.1,501.4 468.2,500.6 468.3,499.8 468.5,499.0 468.6,498.2 468.8,497.5 468.9,496.6 469.0,495.9 469.2,495.1 469.3,494.2 469.5,493.5 469.6,492.6 469.8,491.9 469.9,491.1 470.1,490.3 470.2,489.5 470.4,488.7 470.6,488.0 470.7,487.1 470.9,486.3 471.0,485.6 471.2,484.7 471.3,484.0 471.5,483.1 471.7,482.4 471.8,481.6 472.0,480.7 472.1,480.0 472.3,479.2 472.4,478.4 472.6,477.7 472.7,476.9 472.9,476.0 473.0,475.2 473.2,474.5 473.3,473.6 473.5,472.9 473.6,472.1 473.7,471.3 473.9,470.5 474.0,469.7 474.2,468.9 474.3,468.1 474.4,467.3 474.5,466.5 474.7,465.7 474.8,464.9 474.9,464.2 475.0,463.4 475.2,462.6 475.3,461.8 475.4,461.0 475.5,460.2 475.6,459.4 475.8,458.6 475.9,457.8 476.0,457.0 476.1,456.2 476.2,455.3 476.3,454.6 476.4,453.7 476.5,453.0 476.6,452.2 476.8,451.4 476.9,450.6 477.0,449.8 477.1,449.0 477.2,448.2 477.3,447.3 477.4,446.6 477.5,445.8 477.6,445.0 477.7,444.2 477.8,443.4 477.9,442.6 478.0,441.8 478.1,441.0 478.2,440.2 478.3,439.4 478.4,438.6 478.6,437.8 478.7,437.0 478.8,436.1 478.9,435.5 479.0,434.6 479.1,433.8 479.2,433.0 479.3,432.2 479.4,431.4 479.5,430.7 479.6,429.8 479.7,429.0 479.9,428.2 480.0,427.4 480.1,426.6 480.2,425.8 480.3,425.1 480.4,424.2 480.6,423.5 480.7,422.6 480.8,421.9 480.9,421.0 481.1,420.2 481.2,419.5 481.3,418.7 481.4,417.8 481.6,417.0 481.7,416.3 481.9,415.5 482.0,414.7 482.1,413.9 482.3,413.1 482.4,412.3 482.6,411.5 482.7,410.7 482.9,410.0 483.0,409.1 483.2,408.4 483.4,407.5 483.5,406.7 483.7,406.0 483.9,405.3 484.0,404.4 484.2,403.7 484.4,402.9 484.6,402.1 484.8,401.3 485.0,400.4 485.2,399.7 485.3,399.0 485.6,398.1 485.8,397.4 486.0,396.6 486.2,395.8 486.4,395.0 486.6,394.3 486.8,393.5 487.1,392.7 487.3,391.9 487.5,391.2 487.8,390.4 488.0,389.7 488.3,388.8 488.5,388.1 488.7,387.4 489.0,386.5 489.2,385.8 489.5,385.1 489.7,384.3 490.0,383.5 490.3,382.8 490.5,381.9 490.8,381.2 491.0,380.4 491.3,379.7 491.5,379.0 491.8,378.1 492.0,377.4 492.3,376.6 492.5,375.8 492.8,375.1 493.1,374.4 493.3,373.5 493.6,372.8 494.0,372.1 494.3,371.4 494.8,370.7 495.2,370.0 495.7,369.4 496.1,368.8 496.6,368.1 497.1,367.4 497.6,366.8 498.1,366.1 498.6,365.5 499.0,364.8 499.5,364.1 499.9,363.5 500.3,362.7 500.7,362.0 501.1,361.4 501.5,360.7 501.9,359.9 502.3,359.3 502.7,358.6 503.1,357.8 503.5,357.2 503.9,356.4 504.3,355.8 504.7,355.0 505.1,354.3 505.5,353.6 506.0,352.9 506.5,352.4 507.0,351.8 507.7,351.4 508.4,351.1 509.1,350.7 509.8,350.4 510.4,349.8 511.0,349.4 511.6,348.8 512.1,348.2 512.6,347.6 513.2,346.9 513.7,346.3 514.2,345.6 514.8,345.1 515.4,344.6 516.0,344.1 516.7,343.8 517.4,343.6 518.2,343.3 519.1,343.3 519.9,343.3 520.8,343.3 521.6,343.3 522.5,343.4 523.2,343.3 524.0,343.2 524.8,343.0 525.5,342.6 525.8,341.2 526.2,341.0 526.6,340.7 527.0,340.5 527.4,340.5 527.8,340.5 528.2,340.4 528.6,340.4 529.0,340.4 529.4,340.5 529.8,340.5 530.2,340.7 530.6,340.9 531.0,341.2 531.4,341.4 531.8,341.7 532.2,342.0 532.6,342.3 533.0,342.6 533.4,342.8 533.8,343.0 534.2,343.2 534.6,343.0 535.0,342.7 535.4,342.5 535.8,342.2 536.2,342.0 536.6,341.6 537.0,341.3 537.4,341.1 537.8,340.9 538.2,340.6 538.6,340.5 539.0,340.3 539.4,340.4 539.8,340.3 540.2,340.3 540.6,340.3 541.0,340.4 541.4,340.5 541.8,340.6 542.2,340.8 542.6,341.1 543.0,341.4 543.4,341.6 543.8,341.9 544.2,342.2 544.6,342.4 545.0,342.6 545.4,342.9 545.8,343.1 546.2,342.8 546.6,342.6 547.0,342.3 547.4,342.1 547.8,341.8 548.2,341.5 548.6,341.2 549.0,340.9 549.4,340.6 549.8,340.4 550.2,340.3 550.6,340.2 551.0,340.2 551.4,340.2 551.8,340.2 552.2,340.3 552.6,340.4 553.0,340.4 553.4,340.6 553.8,340.9 554.2,341.3 554.6,341.6 555.0,341.8 555.4,342.1 555.8,342.4 556.2,342.7 556.6,343.0 557.0,343.3 557.4,343.4 557.8,343.1 558.2,343.0 558.6,342.8 559.0,342.5 559.4,342.3 559.8,342.0 560.2,341.7 560.6,341.5 561.0,341.3 561.4,341.1 561.8,341.0 562.2,341.0 562.6,341.1 563.0,341.1 563.4,341.1 563.8,341.2 564.2,341.2 564.6,341.2 565.0,341.5 565.4,341.8 565.8,342.1 566.2,342.4 566.6,342.7 567.0,343.1 567.4,343.2 567.8,343.6 568.2,343.9 568.6,344.1 569.0,344.2 569.4,344.0 569.8,343.7 570.2,343.6 570.6,343.3 571.0,343.1 571.4,342.9 571.8,342.6 572.2,342.3 572.6,342.1 573.0,341.8 573.4,341.9 573.8,341.9 574.2,341.9 574.6,341.8 575.0,341.9 575.4,341.9 575.8,342.0 576.2,342.1 576.6,342.3 577.0,342.7 577.4,343.0 577.8,343.3 578.2,343.6 578.6,343.8 579.0,344.1 579.4,344.4 579.8,344.7 580.2,345.0 580.6,345.0 581.0,344.8 581.4,344.6 581.8,344.4 582.2,344.1 582.6,343.9 583.0,343.6 583.4,343.4 583.8,343.1 584.2,342.9 584.6,342.7 585.0,342.7 585.4,342.7 585.8,342.7 586.2,342.7 586.6,342.7 587.0,342.8 587.4,342.9 587.8,342.9 588.2,343.2 588.6,343.5 589.0,343.8 589.4,344.1 589.8,344.4 590.2,344.7 590.6,345.0 591.0,345.3 591.4,345.5 591.8,345.8 592.2,345.8 592.6,345.6 593.0,345.5 593.4,345.2 593.8,345.0 594.2,344.7 594.6,344.5 595.0,344.2 595.4,343.9 595.8,343.8 596.2,343.6 596.6,343.5 597.0,343.5 597.4,343.5 597.8,343.5 598.2,343.6 598.6,343.7 599.0,343.7 599.4,343.8 599.8,344.2 600.2,344.4 600.6,344.7 601.0,345.0 601.4,345.3 601.8,345.7 602.2,345.9 602.6,346.2 603.0,346.5 603.4,346.7 603.8,346.6 604.2,346.4 604.6,346.2 605.0,346.0 605.4,345.7 605.8,345.5 606.2,345.3 606.6,345.0 607.0,344.8 607.4,344.5 607.8,344.4 608.2,344.4 608.6,344.4 609.0,344.4 609.4,344.4 609.8,344.4 610.2,344.5 610.6,344.5 611.0,344.7 611.4,345.0 611.8,345.3 612.2,345.6 612.6,345.9 613.0,346.2 613.4,346.5 613.8,346.8 614.2,347.1 614.6,347.3 615.0,347.6 615.4,347.5 615.8,347.3 616.2,347.0 616.6,346.8 617.0,346.6 617.4,346.3 617.8,346.1 618.2,345.9 618.6,345.7 619.0,345.4 619.4,345.2 619.8,345.2 620.2,345.2 620.6,345.2 621.0,345.3 621.4,345.3 621.8,345.4 622.2,345.5 622.6,345.6 623.0,345.9 623.4,346.1 623.8,346.5 624.2,346.8 624.6,347.1 625.0,347.4 625.4,347.7 625.8,347.9 626.2,348.2 626.6,348.4 627.0,348.3 627.4,348.1 627.8,347.9 628.2,347.7 628.6,347.5 629.0,347.3 629.4,346.9 629.8,346.7 630.2,346.5 630.6,346.3 631.0,346.1 631.4,346.1 631.8,346.1 632.2,346.1 632.6,346.2 633.0,346.2 633.4,346.3 633.8,346.4 634.2,346.5 634.6,346.8 635.0,347.1 635.4,347.4 635.8,347.7 636.2,348.1 636.6,348.3 637.0,348.6 637.4,348.8 637.8,349.1 638.2,349.4 638.6,349.2 639.0,349.0 639.4,348.8 639.8,348.5 640.2,348.3 640.6,348.0 641.0,347.9 641.4,347.5 641.8,347.3 642.2,347.1 642.6,347.0 643.0,346.9 643.4,347.0 643.8,347.0 644.2,347.0 644.6,347.1 645.0,347.2 645.4,347.2 645.8,347.4 646.2,347.7 646.6,348.0 647.0,348.3 647.4,348.7 647.8,348.9 648.2,349.2 648.6,349.5 649.0,349.8 649.4,350.1 649.8,350.3 650.2,350.0 650.6,349.9 651.0,349.7 651.4,349.4 651.8,349.2 652.2,348.9 652.6,348.6 653.0,348.4 653.4,348.2 653.8,348.0 654.2,347.9 654.6,347.9 655.0,347.9 655.4,347.9 655.7,348.2 656.5,348.5 657.2,348.9 657.9,349.3 658.7,349.6 659.4,350.0 660.1,350.5 660.7,350.9 661.4,351.4 662.1,351.8 662.7,352.4 663.3,352.9 663.9,353.4 664.5,353.8 665.1,354.4 665.7,354.9 666.2,355.5 666.8,356.1 667.3,356.8 667.8,357.3 668.3,357.9 668.8,358.6 669.3,359.2 669.7,359.8 670.2,360.5 670.6,361.2 671.1,361.8 671.5,362.5 671.9,363.2 672.3,363.9 672.7,364.7 673.0,365.4 673.4,366.0 673.7,366.7 674.1,367.5 674.4,368.3 674.7,369.0 675.0,369.7 675.3,370.5 675.6,371.3 675.9,372.1 676.1,372.8 676.4,373.6 676.6,374.3 676.9,375.0 677.1,375.9 677.3,376.6 677.5,377.5 677.7,378.2 677.9,379.0 678.1,379.8 678.3,380.5 678.4,381.4 678.6,382.1 678.7,382.8 678.9,383.7 679.0,384.4 679.2,385.2 679.3,386.1 679.4,386.9 679.6,387.6 679.7,388.5 679.8,389.2 679.9,390.0 680.0,390.8 680.2,391.6 680.3,392.5 680.4,393.2 680.5,393.9 680.6,394.8 680.7,395.6 680.8,396.3 680.9,397.2 681.0,397.9 681.2,398.7 681.3,399.6 681.4,400.3 681.5,401.1 681.6,402.0 681.8,402.8 681.9,403.6 682.0,404.3 682.2,405.1 682.3,405.9 682.4,406.7 682.6,407.5 682.7,408.3 682.8,409.1 683.0,409.9 683.1,410.7 683.3,411.4 683.4,412.3 683.6,413.1 683.7,413.8 683.9,414.6 684.0,415.5 684.2,416.2 684.3,417.0 684.5,417.8 684.6,418.6 684.7,419.3 684.9,420.1 685.0,420.9 685.2,421.8 685.3,422.5 685.5,423.3 685.6,424.1 685.7,424.9 685.9,425.7 686.0,426.4 686.1,427.2 686.3,428.0 686.4,428.8 686.5,429.6 686.6,430.4 686.8,431.2 686.9,432.0 687.0,432.9 687.1,433.6 687.3,434.5 687.4,435.2 687.5,436.0 687.6,436.8 687.7,437.6 687.8,438.4 688.0,439.2 688.1,439.9 688.2,440.8 688.3,441.6 688.4,442.3 688.5,443.2 688.6,443.9 688.8,444.8 688.9,445.6 689.0,446.4 689.1,447.1 689.2,447.9 689.3,448.7 689.4,449.5 689.6,450.3 689.7,451.1 689.8,451.9 689.9,452.7 690.0,453.5 690.1,454.3 690.2,455.1 690.3,455.9 690.4,456.7 690.6,457.5 690.7,458.3 690.8,459.0 690.9,459.9 691.0,460.6 691.1,461.5 691.2,462.2 691.3,463.1 691.4,463.9 691.5,464.7 691.6,465.4 691.7,466.2 691.9,467.0 692.0,467.8 692.1,468.6 692.2,469.4 692.3,470.2 692.4,471.1 692.5,471.7 692.6,472.7 692.7,473.3 692.8,474.2 692.9,474.9 693.1,475.8 693.2,476.6 693.3,477.3 693.5,478.2 693.6,479.0 693.8,479.8 693.9,480.5 694.1,481.3 694.3,482.1 694.4,482.9 694.6,483.6 694.8,484.4 695.0,485.1 695.3,486.0 695.5,486.8 695.7,487.5 695.9,488.3 696.1,489.1 696.4,489.8 696.6,490.6 696.8,491.4 697.0,492.1 697.3,492.9 697.5,493.8 697.7,494.5 697.9,495.3 698.0,496.0 698.2,496.8 698.4,497.6 698.6,498.4 698.7,499.2 698.9,499.9 699.1,500.8 699.2,501.5 699.4,502.3 699.5,503.1 699.7,503.9 699.9,504.7 700.0,505.5 700.2,506.2 700.4,507.0 700.5,507.8 700.7,508.6 700.9,509.4 701.1,510.1 701.3,510.9 701.5,511.8 701.7,512.5 701.9,513.3 702.2,514.0 702.4,514.8 702.7,515.6 702.9,516.3 703.2,517.1 703.5,517.9 703.8,518.6 704.1,519.4 704.5,520.1 704.8,520.9 705.2,521.5 705.6,522.3 706.0,522.9 706.5,523.6 706.9,524.4 707.4,524.9 707.9,525.5 708.4,526.2 708.9,526.7 709.5,527.2 710.1,527.7 710.7,528.2 711.4,528.6 712.0,529.0 712.7,529.3 713.4,529.6 714.2,529.9 715.0,530.1 715.8,530.3 716.6,530.4 717.4,530.6 718.3,530.5 719.1,530.6 720.0,530.5"/>
<polyline stroke="#000" stroke-width="2.3" points="424.0,529.7 424.8,529.5 425.6,529.4 426.4,529.4 427.2,529.2 428.0,529.7 428.8,529.0 429.6,529.2 430.4,528.9 431.2,529.3 432.0,529.7 432.8,529.4 433.6,528.8 434.4,529.7 435.2,528.9 436.0,529.0 436.8,529.3 437.6,528.8 438.4,529.6 439.2,529.5 440.0,529.8 440.8,529.4 441.6,529.2 442.4,529.0 443.2,529.1 444.0,529.4 444.8,529.6 445.6,529.0 446.4,529.3 447.2,529.4 448.0,529.0 448.8,529.5 449.6,529.1 450.4,529.1 451.2,529.0 452.0,529.8 452.8,528.8 453.6,529.1 454.4,529.4 455.2,529.3 456.0,529.0 456.8,529.3 457.6,529.3 458.4,529.3 459.2,529.2 460.0,529.0 460.8,529.5 461.6,529.1 462.4,529.6 463.2,529.1 464.0,529.3 464.0,529.3 464.1,528.5 464.2,527.8 464.3,526.9 464.5,526.1 464.6,525.3 464.7,524.4 464.8,523.7 464.9,522.9 465.0,522.0 465.1,521.3 465.2,520.5 465.4,519.7 465.5,518.8 465.6,518.1 465.7,517.3 465.8,516.5 465.9,515.7 466.0,514.9 466.2,514.1 466.3,513.3 466.4,512.5 466.5,511.7 466.6,510.9 466.8,510.1 466.9,509.3 467.0,508.5 467.1,507.8 467.3,507.0 467.4,506.2 467.5,505.4 467.6,504.6 467.8,503.8 467.9,503.0 468.0,502.2 468.2,501.4 468.3,500.6 468.5,499.8 468.6,499.0 468.8,498.2 468.9,497.4 469.1,496.6 469.2,495.8 469.4,495.0 469.5,494.3 469.7,493.5 469.8,492.7 470.0,491.8 470.2,491.0 470.4,490.3 470.5,489.4 470.7,488.7 470.9,487.8 471.1,487.1 471.3,486.3 471.5,485.4 471.7,484.7 472.0,484.0 472.2,483.2 472.6,482.5 472.9,481.8 473.4,481.1 473.9,480.5 474.4,480.0 475.0,479.4 475.5,478.8 476.1,478.1 476.7,477.6 477.2,477.0 477.7,476.4 478.2,475.7 478.6,474.9 479.0,474.3 479.3,473.6 479.6,472.8 479.9,472.1 480.1,471.3 480.3,470.5 480.4,469.8 480.6,469.0 480.7,468.1 480.8,467.4 480.9,466.5 480.9,465.7 481.0,464.9 481.1,464.1 481.2,463.2 481.3,462.5 481.4,461.7 481.5,460.8 481.6,460.1 481.7,459.2 481.8,458.4 481.9,457.7 482.0,456.8 482.1,456.1 482.3,455.3 482.4,454.4 482.5,453.7 482.7,452.9 482.8,452.1 483.0,451.3 483.1,450.5 483.3,449.7 483.5,449.0 483.6,448.2 483.8,447.4 484.0,446.6 484.2,445.8 484.4,445.0 484.6,444.3 484.8,443.5 485.0,442.7 485.2,441.9 485.5,441.1 485.7,440.4 485.9,439.5 486.2,438.8 486.4,438.0 486.7,437.2 487.0,436.5 487.3,435.8 487.6,435.0 487.9,434.2 488.3,433.5 488.6,432.8 489.1,432.1 489.5,431.5 490.0,430.8 490.6,430.3 491.2,429.8 491.8,429.3 492.5,428.8 493.2,428.3 493.8,427.9 494.4,427.3 494.9,426.8 495.3,426.1 495.7,425.4 496.0,424.7 496.2,423.8 496.4,423.0 496.6,422.3 496.8,421.4 497.0,420.6 497.2,419.9 497.4,419.0 497.6,418.3 497.8,417.5 498.1,416.7 498.3,415.9 498.6,415.2 498.8,414.4 499.1,413.6 499.4,412.9 499.7,412.2 500.0,411.3 500.4,410.7 500.8,410.0 501.2,409.3 501.6,408.6 502.1,408.0 502.7,407.4 503.2,406.9 503.9,406.4 504.5,406.0 505.2,405.5 506.0,405.1 506.7,404.7 507.5,404.3 508.2,404.0 508.8,403.4 509.4,403.0 510.0,402.3 510.6,401.8 511.1,401.2 511.6,400.6 512.0,399.9 512.5,399.2 513.0,398.5 513.4,397.9 513.9,397.2 514.4,396.6 515.0,395.9 515.5,395.3 516.1,394.8 516.7,394.2 517.4,393.8 518.1,393.4 518.8,393.1 519.5,392.8 520.3,392.5 521.1,392.3 521.9,392.2 522.7,392.0 523.5,391.7 524.3,391.5 525.1,391.4 525.9,391.0 526.6,390.6 527.2,390.1 527.8,389.7 528.3,389.0 528.8,388.5 529.3,387.8 529.9,387.2 530.4,386.6 531.1,386.2 531.8,385.9 532.5,385.6 533.3,385.5 534.1,385.4 535.0,385.4 535.8,385.5 536.7,385.6 537.5,385.8 538.3,386.0 539.0,386.1 539.4,386.6 539.8,386.7 540.2,386.9 540.6,387.1 541.0,386.8 541.4,386.5 541.8,386.3 542.2,385.8 542.6,385.6 543.0,385.1 543.4,384.8 543.8,384.5 544.2,384.1 544.6,383.7 545.0,383.4 545.4,382.9 545.8,382.6 546.2,382.2 546.6,382.2 547.0,382.0 547.4,381.9 547.8,381.8 548.2,381.7 548.6,381.5 549.0,381.5 549.4,381.6 549.8,381.5 550.2,381.5 550.6,381.6 551.0,381.7 551.4,382.0 551.8,382.2 552.2,382.4 552.6,382.7 553.0,382.9 553.4,383.2 553.8,383.3 554.2,383.5 554.6,383.8 555.0,383.9 555.4,384.1 555.8,384.3 556.2,384.2 556.6,384.0 557.0,383.7 557.4,383.5 557.8,383.2 558.2,382.8 558.6,382.6 559.0,382.3 559.4,382.1 559.8,381.8 560.2,381.5 560.6,381.2 561.0,381.0 561.4,380.6 561.8,380.7 562.2,380.6 562.6,380.6 563.0,380.5 563.4,380.6 563.8,380.5 564.2,380.5 564.6,380.5 565.0,380.5 565.4,380.5 565.8,380.6 566.2,380.8 566.6,381.1 567.0,381.3 567.4,381.7 567.8,381.9 568.2,382.1 568.6,382.4 569.0,382.7 569.4,382.9 569.8,383.1 570.2,383.4 570.6,383.6 571.0,383.8 571.4,383.7 571.8,383.5 572.2,383.3 572.6,383.1 573.0,382.8 573.4,382.6 573.8,382.4 574.2,382.0 574.6,381.8 575.0,381.5 575.4,381.2 575.8,380.9 576.2,380.7 576.6,380.4 577.0,380.4 577.4,380.3 577.8,380.3 578.2,380.3 578.6,380.3 579.0,380.2 579.4,380.2 579.8,380.3 580.2,380.3 580.6,380.4 581.0,380.5 581.4,380.7 581.8,380.9 582.2,381.2 582.6,381.4 583.0,381.8 583.4,382.0 583.8,382.3 584.2,382.5 584.6,382.8 585.0,383.1 585.4,383.3 585.8,383.5 586.2,383.8 586.6,383.7 587.0,383.5 587.4,383.3 587.8,383.0 588.2,382.8 588.6,382.5 589.0,382.3 589.4,382.0 589.8,381.8 590.2,381.5 590.6,381.3 591.0,381.0 591.4,380.7 591.8,380.4 592.2,380.4 592.6,380.3 593.0,380.3 593.4,380.2 593.8,380.3 594.2,380.2 594.6,380.2 595.0,380.3 595.4,380.3 595.8,380.3 596.2,380.4 596.6,380.6 597.0,381.0 597.4,381.2 597.8,381.5 598.2,381.8 598.6,382.0 599.0,382.3 599.4,382.6 599.8,382.9 600.2,383.1 600.6,383.4 601.0,383.6 601.4,383.8 601.8,383.9 602.2,383.7 602.6,383.4 603.0,383.3 603.4,383.0 603.8,382.8 604.2,382.5 604.6,382.3 605.0,382.0 605.4,381.8 605.8,381.5 606.2,381.2 606.6,381.0 607.0,380.8 607.4,380.6 607.8,380.6 608.2,380.6 608.6,380.6 609.0,380.6 609.4,380.6 609.8,380.5 610.2,380.6 610.6,380.6 611.0,380.7 611.4,380.7 611.8,380.9 612.2,381.3 612.6,381.5 613.0,381.8 613.4,382.1 613.8,382.4 614.2,382.6 614.6,382.9 615.0,383.1 615.4,383.4 615.8,383.7 616.2,383.9 616.6,384.2 617.0,384.3 617.4,384.1 617.8,383.9 618.2,383.6 618.6,383.4 619.0,383.2 619.4,382.9 619.8,382.7 620.2,382.4 620.6,382.2 621.0,382.0 621.4,381.6 621.8,381.4 622.2,381.2 622.6,381.0 623.0,381.0 623.4,381.0 623.8,380.9 624.2,380.9 624.6,381.0 625.0,380.9 625.4,381.0 625.8,381.0 626.2,381.1 626.6,381.1 627.0,381.3 627.4,381.6 627.8,382.0 628.2,382.1 628.6,382.5 629.0,382.8 629.4,383.0 629.8,383.3 630.2,383.6 630.6,383.8 631.0,384.0 631.4,384.3 631.8,384.5 632.2,384.7 632.6,384.5 633.0,384.4 633.4,384.1 633.8,383.8 634.2,383.6 634.6,383.4 635.0,383.1 635.4,382.8 635.8,382.6 636.2,382.3 636.6,382.1 637.0,381.8 637.4,381.5 637.8,381.4 638.2,381.3 638.6,381.4 639.0,381.3 639.4,381.3 639.8,381.3 640.2,381.4 640.6,381.3 641.0,381.4 641.4,381.4 641.8,381.5 642.2,381.7 642.6,382.0 643.0,382.2 643.4,382.5 643.8,382.8 644.2,383.1 644.6,383.3 645.0,383.6 645.4,383.8 645.8,384.1 646.2,384.4 646.6,384.7 647.0,384.8 647.4,385.1 647.8,384.9 648.2,384.7 648.6,384.5 649.0,384.3 649.4,384.0 649.8,383.8 650.2,383.5 650.6,383.3 651.0,383.0 651.4,382.8 651.8,382.5 652.2,382.2 652.6,382.0 653.0,381.8 653.4,381.7 653.8,381.7 654.2,381.7 654.6,381.7 655.0,381.7 655.5,381.4 656.3,381.4 657.0,381.6 657.8,381.9 658.6,382.1 659.4,382.3 660.2,382.5 660.9,382.9 661.7,383.1 662.4,383.4 663.2,383.8 663.9,384.1 664.6,384.4 665.3,384.8 666.0,385.2 666.7,385.7 667.3,386.2 667.9,386.7 668.5,387.3 669.1,387.8 669.6,388.4 670.2,389.0 670.7,389.7 671.1,390.3 671.6,391.0 672.0,391.7 672.4,392.3 672.8,393.1 673.2,393.8 673.5,394.5 673.8,395.3 674.1,396.1 674.4,396.8 674.6,397.5 674.8,398.3 675.1,399.0 675.3,399.9 675.5,400.6 675.7,401.4 675.9,402.2 676.0,403.0 676.2,403.8 676.4,404.5 676.5,405.3 676.7,406.2 676.8,406.9 677.0,407.7 677.2,408.5 677.4,409.3 677.5,410.1 677.7,410.9 677.9,411.6 678.1,412.5 678.3,413.2 678.5,414.0 678.7,414.8 678.9,415.5 679.1,416.3 679.3,417.1 679.5,417.9 679.7,418.6 679.9,419.5 680.1,420.2 680.3,420.9 680.5,421.8 680.7,422.5 680.9,423.3 681.0,424.1 681.2,424.8 681.4,425.7 681.5,426.5 681.7,427.2 681.9,428.0 682.0,428.9 682.2,429.6 682.4,430.4 682.5,431.2 682.7,432.0 682.8,432.7 683.0,433.6 683.1,434.3 683.3,435.2 683.4,436.0 683.6,436.7 683.7,437.5 683.9,438.4 684.0,439.1 684.2,439.9 684.3,440.7 684.5,441.5 684.6,442.3 684.8,443.1 684.9,443.9 685.1,444.6 685.3,445.4 685.4,446.3 685.6,447.0 685.7,447.8 685.9,448.6 686.1,449.3 686.2,450.1 686.4,450.9 686.6,451.8 686.8,452.6 687.0,453.3 687.1,454.1 687.3,454.9 687.5,455.7 687.7,456.5 687.9,457.1 688.1,458.0 688.3,458.7 688.5,459.5 688.7,460.3 689.0,461.0 689.2,461.8 689.4,462.6 689.6,463.3 689.9,464.1 690.1,464.9 690.4,465.7 690.6,466.4 690.8,467.2 691.1,467.9 691.3,468.7 691.5,469.5 691.6,470.2 691.8,471.0 692.0,471.8 692.1,472.6 692.3,473.5 692.4,474.2 692.6,475.0 692.8,475.7 693.0,476.5 693.1,477.4 693.3,478.1 693.5,478.8 693.8,479.6 694.0,480.4 694.2,481.2 694.4,481.9 694.5,482.7 694.7,483.5 694.9,484.3 695.1,485.2 695.3,485.9 695.5,486.7 695.6,487.5 695.8,488.3 696.0,489.0 696.2,489.9 696.4,490.6 696.7,491.4 696.9,492.1 697.2,492.9 697.4,493.6 697.7,494.4 698.0,495.1 698.4,495.8 698.7,496.6 699.1,497.3 699.5,498.0 699.9,498.6 700.4,499.4 700.8,500.0 701.3,500.7 701.8,501.3 702.3,501.9 702.8,502.6 703.3,503.3 703.8,503.9 704.3,504.4 704.8,505.1 705.3,505.8 705.8,506.3 706.3,506.9 706.8,507.6 707.3,508.2 707.8,508.9 708.3,509.5 708.8,510.1 709.3,510.7 709.8,511.4 710.3,511.9 710.9,512.6 711.4,513.3 711.9,513.9 712.5,514.3 713.0,515.0 713.6,515.5 714.1,516.2 714.7,516.7 715.3,517.3 715.9,517.8 716.5,518.4 717.2,518.8 717.8,519.3 718.4,519.8 719.1,520.3 719.7,520.7 720.4,521.2 721.1,521.6 721.8,522.0 722.5,522.4 723.2,522.8 723.9,523.1 724.6,523.4 725.4,523.7 726.1,524.0 726.9,524.2 727.7,524.5 728.4,524.7 729.2,524.9 730.0,525.2 730.8,525.4 731.6,525.6 732.3,525.6 733.1,525.8 733.9,526.0 734.7,526.2 735.5,526.3 736.3,526.5 737.1,526.5 737.9,526.8 738.7,526.9 739.5,526.9 740.3,527.2 741.1,527.3 741.9,527.3 742.7,527.5 743.5,527.5 744.3,527.6 745.1,527.7 745.9,527.9 746.7,528.0 747.5,528.0 748.2,528.1 749.0,528.1 749.8,528.1 750.6,528.2 751.4,528.3 752.2,528.4 753.1,528.3 753.9,528.4 754.7,528.4 755.5,528.4 756.3,528.4 757.1,528.4 757.9,528.4"/>
</g>
<line x1="269.5" y1="41.3" x2="286" y2="41.3" stroke="#555" stroke-width="1"/>
<line x1="269.5" y1="66.5" x2="286" y2="66.5" stroke="#000" stroke-width="2"/>
<g fill="#000" style='font-family:"Liberation Sans",sans-serif'>
<text x="149.3" y="10.8" font-size="13" font-weight="bold" textLength="83.3" lengthAdjust="spacingAndGlyphs">Young Twitch</text>
<text x="518.5" y="11.4" font-size="13.4" font-weight="bold" textLength="66.6" lengthAdjust="spacingAndGlyphs">Old Twitch</text>
<text x="149.7" y="309.3" font-size="13" font-weight="bold" textLength="91.3" lengthAdjust="spacingAndGlyphs">Young Tetanus</text>
<text x="532.4" y="308.6" font-size="13" font-weight="bold" textLength="74" lengthAdjust="spacingAndGlyphs">Old Tetanus</text>
<text x="152.7" y="257.6" font-size="12.5" font-weight="bold" textLength="61.3" lengthAdjust="spacingAndGlyphs">Time (ms)</text>
<text transform="translate(12.0,152.6) rotate(-90)" x="0" y="0" font-size="12.3" font-weight="bold" textLength="68" lengthAdjust="spacingAndGlyphs">Force (mN)</text>
<text x="288" y="45.9" font-size="10" font-weight="bold" textLength="35.2" lengthAdjust="spacingAndGlyphs">Control</text>
<text x="288" y="71.1" font-size="10" font-weight="bold" textLength="42.7" lengthAdjust="spacingAndGlyphs">Radiated</text>
<g stroke="#000" stroke-width="0.35">
<text x="30.7" y="227.9" text-anchor="end" font-size="7.9" textLength="4.0" lengthAdjust="spacingAndGlyphs">0</text><text x="30.7" y="192.9" text-anchor="end" font-size="7.9" textLength="7.9" lengthAdjust="spacingAndGlyphs">50</text><text x="30.7" y="157.9" text-anchor="end" font-size="7.9" textLength="11.9" lengthAdjust="spacingAndGlyphs">100</text><text x="30.7" y="122.9" text-anchor="end" font-size="7.9" textLength="11.9" lengthAdjust="spacingAndGlyphs">150</text><text x="30.7" y="87.9" text-anchor="end" font-size="7.9" textLength="11.9" lengthAdjust="spacingAndGlyphs">200</text><text x="30.7" y="52.9" text-anchor="end" font-size="7.9" textLength="11.9" lengthAdjust="spacingAndGlyphs">250</text><text x="30.7" y="17.9" text-anchor="end" font-size="7.9" textLength="11.9" lengthAdjust="spacingAndGlyphs">300</text>
<text x="38.6" y="238.9" text-anchor="middle" font-size="7.9" textLength="4.0" lengthAdjust="spacingAndGlyphs">0</text><text x="67.5" y="238.9" text-anchor="middle" font-size="7.9" textLength="7.9" lengthAdjust="spacingAndGlyphs">10</text><text x="96.4" y="238.9" text-anchor="middle" font-size="7.9" textLength="7.9" lengthAdjust="spacingAndGlyphs">20</text><text x="125.3" y="238.9" text-anchor="middle" font-size="7.9" textLength="7.9" lengthAdjust="spacingAndGlyphs">30</text><text x="154.2" y="238.9" text-anchor="middle" font-size="7.9" textLength="7.9" lengthAdjust="spacingAndGlyphs">40</text><text x="183.0" y="238.9" text-anchor="middle" font-size="7.9" textLength="7.9" lengthAdjust="spacingAndGlyphs">50</text><text x="211.9" y="238.9" text-anchor="middle" font-size="7.9" textLength="7.9" lengthAdjust="spacingAndGlyphs">60</text><text x="240.8" y="238.9" text-anchor="middle" font-size="7.9" textLength="7.9" lengthAdjust="spacingAndGlyphs">70</text><text x="269.7" y="238.9" text-anchor="middle" font-size="7.9" textLength="7.9" lengthAdjust="spacingAndGlyphs">80</text><text x="298.6" y="238.9" text-anchor="middle" font-size="7.9" textLength="7.9" lengthAdjust="spacingAndGlyphs">90</text><text x="327.5" y="238.9" text-anchor="middle" font-size="7.9" textLength="11.9" lengthAdjust="spacingAndGlyphs">100</text>
<text x="414.3" y="224.5" text-anchor="end" font-size="7.9" textLength="4.0" lengthAdjust="spacingAndGlyphs">0</text><text x="414.3" y="190.0" text-anchor="end" font-size="7.9" textLength="7.9" lengthAdjust="spacingAndGlyphs">50</text><text x="414.3" y="155.6" text-anchor="end" font-size="7.9" textLength="11.9" lengthAdjust="spacingAndGlyphs">100</text><text x="414.3" y="121.1" text-anchor="end" font-size="7.9" textLength="11.9" lengthAdjust="spacingAndGlyphs">150</text><text x="414.3" y="86.6" text-anchor="end" font-size="7.9" textLength="11.9" lengthAdjust="spacingAndGlyphs">200</text><text x="414.3" y="52.2" text-anchor="end" font-size="7.9" textLength="11.9" lengthAdjust="spacingAndGlyphs">250</text><text x="414.3" y="17.7" text-anchor="end" font-size="7.9" textLength="11.9" lengthAdjust="spacingAndGlyphs">300</text>
<text x="422.8" y="235.9" text-anchor="middle" font-size="7.9" textLength="4.0" lengthAdjust="spacingAndGlyphs">0</text><text x="451.6" y="235.9" text-anchor="middle" font-size="7.9" textLength="7.9" lengthAdjust="spacingAndGlyphs">10</text><text x="480.3" y="235.9" text-anchor="middle" font-size="7.9" textLength="7.9" lengthAdjust="spacingAndGlyphs">20</text><text x="509.1" y="235.9" text-anchor="middle" font-size="7.9" textLength="7.9" lengthAdjust="spacingAndGlyphs">30</text><text x="537.9" y="235.9" text-anchor="middle" font-size="7.9" textLength="7.9" lengthAdjust="spacingAndGlyphs">40</text><text x="566.6" y="235.9" text-anchor="middle" font-size="7.9" textLength="7.9" lengthAdjust="spacingAndGlyphs">50</text><text x="595.4" y="235.9" text-anchor="middle" font-size="7.9" textLength="7.9" lengthAdjust="spacingAndGlyphs">60</text><text x="624.2" y="235.9" text-anchor="middle" font-size="7.9" textLength="7.9" lengthAdjust="spacingAndGlyphs">70</text><text x="653.0" y="235.9" text-anchor="middle" font-size="7.9" textLength="7.9" lengthAdjust="spacingAndGlyphs">80</text><text x="681.7" y="235.9" text-anchor="middle" font-size="7.9" textLength="7.9" lengthAdjust="spacingAndGlyphs">90</text><text x="710.5" y="235.9" text-anchor="middle" font-size="7.9" textLength="11.9" lengthAdjust="spacingAndGlyphs">100</text>
<text x="31.0" y="538.0" text-anchor="end" font-size="7.9" textLength="4.0" lengthAdjust="spacingAndGlyphs">0</text><text x="31.0" y="498.5" text-anchor="end" font-size="7.9" textLength="11.9" lengthAdjust="spacingAndGlyphs">200</text><text x="31.0" y="459.1" text-anchor="end" font-size="7.9" textLength="11.9" lengthAdjust="spacingAndGlyphs">400</text><text x="31.0" y="419.6" text-anchor="end" font-size="7.9" textLength="11.9" lengthAdjust="spacingAndGlyphs">600</text><text x="31.0" y="380.2" text-anchor="end" font-size="7.9" textLength="11.9" lengthAdjust="spacingAndGlyphs">800</text><text x="31.0" y="340.7" text-anchor="end" font-size="7.9" textLength="15.8" lengthAdjust="spacingAndGlyphs">1000</text><text x="31.0" y="301.2" text-anchor="end" font-size="7.9" textLength="15.8" lengthAdjust="spacingAndGlyphs">1200</text>
<text x="38.6" y="548.2" text-anchor="middle" font-size="7.9" textLength="4.0" lengthAdjust="spacingAndGlyphs">0</text><text x="137.3" y="548.2" text-anchor="middle" font-size="7.9" textLength="11.9" lengthAdjust="spacingAndGlyphs">100</text><text x="236.0" y="548.2" text-anchor="middle" font-size="7.9" textLength="11.9" lengthAdjust="spacingAndGlyphs">200</text><text x="334.7" y="548.2" text-anchor="middle" font-size="7.9" textLength="11.9" lengthAdjust="spacingAndGlyphs">300</text>
<text x="415.9" y="534.6" text-anchor="end" font-size="7.9" textLength="4.0" lengthAdjust="spacingAndGlyphs">0</text><text x="415.9" y="495.5" text-anchor="end" font-size="7.9" textLength="11.9" lengthAdjust="spacingAndGlyphs">200</text><text x="415.9" y="456.4" text-anchor="end" font-size="7.9" textLength="11.9" lengthAdjust="spacingAndGlyphs">400</text><text x="415.9" y="417.4" text-anchor="end" font-size="7.9" textLength="11.9" lengthAdjust="spacingAndGlyphs">600</text><text x="415.9" y="378.3" text-anchor="end" font-size="7.9" textLength="11.9" lengthAdjust="spacingAndGlyphs">800</text><text x="415.9" y="339.2" text-anchor="end" font-size="7.9" textLength="15.8" lengthAdjust="spacingAndGlyphs">1000</text><text x="415.9" y="300.1" text-anchor="end" font-size="7.9" textLength="15.8" lengthAdjust="spacingAndGlyphs">1200</text>
<text x="424.0" y="545.1" text-anchor="middle" font-size="7.9" textLength="4.0" lengthAdjust="spacingAndGlyphs">0</text><text x="520.9" y="545.1" text-anchor="middle" font-size="7.9" textLength="11.9" lengthAdjust="spacingAndGlyphs">100</text><text x="617.8" y="545.1" text-anchor="middle" font-size="7.9" textLength="11.9" lengthAdjust="spacingAndGlyphs">200</text><text x="714.7" y="545.1" text-anchor="middle" font-size="7.9" textLength="11.9" lengthAdjust="spacingAndGlyphs">300</text>
</g>
</g>
</svg>
</body></html>
